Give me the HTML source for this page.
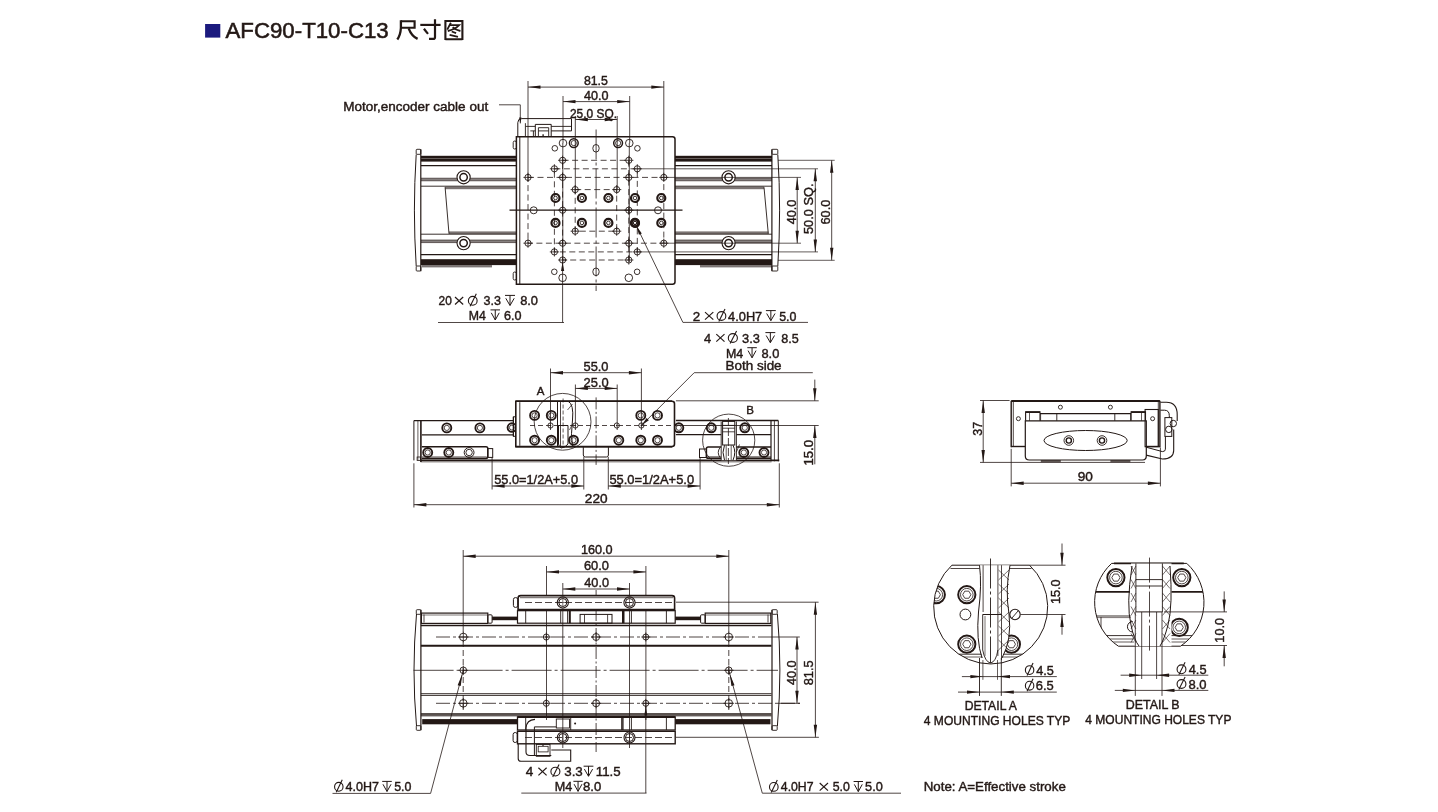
<!DOCTYPE html>
<html><head><meta charset="utf-8"><style>
html,body{margin:0;padding:0;background:#fff;width:1438px;height:812px;overflow:hidden}
svg{position:absolute;left:0;top:0;display:block;will-change:transform}
text{font-family:"Liberation Sans",sans-serif;stroke:#231815;stroke-width:0.42px}
.ttl{stroke-width:0.55px}
</style></head><body>
<svg width="1438" height="812" viewBox="0 0 1438 812">
<rect x="205.1" y="24" width="15.2" height="13.6" fill="#1b1a7e"/>
<text x="225.5" y="37.8" font-size="21.5" class="ttl" textLength="163.2" lengthAdjust="spacingAndGlyphs" fill="#231815">AFC90-T10-C13</text>
<path d="M400.9 21.2H414.6V27.7H400.9" fill="none" stroke="#231815" stroke-width="2.15" stroke-linecap="butt" stroke-linejoin="miter"/>
<path d="M400.9 20.3V28Q400.5 35 397.3 39.5" fill="none" stroke="#231815" stroke-width="2.3" stroke-linecap="butt" stroke-linejoin="miter"/>
<path d="M408.6 28.3Q411.5 36 417.6 38.9" fill="none" stroke="#231815" stroke-width="2.3" stroke-linecap="butt" stroke-linejoin="miter"/>
<path d="M420.3 24.9H440.6" fill="none" stroke="#231815" stroke-width="2.15" stroke-linecap="butt" stroke-linejoin="miter"/>
<path d="M435 19.2V37.2Q435 38.9 433.2 38.9H429" fill="none" stroke="#231815" stroke-width="2.2" stroke-linecap="butt" stroke-linejoin="miter"/>
<path d="M423.9 28.8L428 33.9" fill="none" stroke="#231815" stroke-width="2.2" stroke-linecap="butt" stroke-linejoin="miter"/>
<path d="M445.4 40.1V21H462.4V40.1M445.4 39.2H462.4" fill="none" stroke="#231815" stroke-width="2.1" stroke-linecap="butt" stroke-linejoin="miter"/>
<path d="M450.9 22.8L447.2 29.6" fill="none" stroke="#231815" stroke-width="1.8" stroke-linecap="butt" stroke-linejoin="miter"/>
<path d="M449.6 25.2H459.1Q455 29.5 447.8 31" fill="none" stroke="#231815" stroke-width="1.8" stroke-linecap="butt" stroke-linejoin="miter"/>
<path d="M452.6 27.2Q456 30 460.4 31" fill="none" stroke="#231815" stroke-width="1.8" stroke-linecap="butt" stroke-linejoin="miter"/>
<path d="M451.7 31.5L456.1 33.2" fill="none" stroke="#231815" stroke-width="1.8" stroke-linecap="butt" stroke-linejoin="miter"/>
<path d="M449.6 34.9L458 36.8" fill="none" stroke="#231815" stroke-width="1.8" stroke-linecap="butt" stroke-linejoin="miter"/>
<rect x="421" y="155.8" width="95" height="5.8" fill="#231815"/>
<rect x="421" y="158.2" width="95" height="0.6" fill="#fff" fill-opacity="0.5"/>
<line x1="421" y1="165.7" x2="516" y2="165.7" stroke="#231815" stroke-width="1.3"/>
<rect x="421" y="178.2" width="95" height="2.6" fill="#231815" fill-opacity="0.55"/>
<line x1="421" y1="178.2" x2="516" y2="178.2" stroke="#231815" stroke-width="0.6"/>
<line x1="421" y1="180.8" x2="516" y2="180.8" stroke="#231815" stroke-width="0.6"/>
<line x1="421" y1="186.2" x2="516" y2="186.2" stroke="#231815" stroke-width="0.9"/>
<rect x="445.1" y="186.6" width="70.9" height="2.6" fill="#231815" fill-opacity="0.6"/>
<rect x="449" y="231.4" width="67" height="2.6" fill="#231815" fill-opacity="0.6"/>
<line x1="421" y1="234.2" x2="516" y2="234.2" stroke="#231815" stroke-width="0.9"/>
<rect x="421" y="240" width="95" height="2.6" fill="#231815" fill-opacity="0.55"/>
<line x1="421" y1="240" x2="516" y2="240" stroke="#231815" stroke-width="0.6"/>
<line x1="421" y1="242.6" x2="516" y2="242.6" stroke="#231815" stroke-width="0.6"/>
<line x1="421" y1="254.7" x2="516" y2="254.7" stroke="#231815" stroke-width="1.3"/>
<rect x="421" y="259.2" width="95" height="5.9" fill="#231815"/>
<line x1="445.1" y1="187.2" x2="449" y2="233.8" stroke="#231815" stroke-width="0.9"/>
<rect x="422" y="265.1" width="70" height="2.3" fill="#231815" fill-opacity="0.6"/>
<path d="M416.2 154.5Q412.6 210 416.2 266" fill="none" stroke="#231815" stroke-width="1"/>
<path d="M420.8 149.3V271.3" fill="none" stroke="#231815" stroke-width="1.2"/>
<rect x="416.2" y="149.3" width="4.6" height="5" fill="none" stroke="#231815" stroke-width="0.9" rx="0.8"/>
<rect x="416.2" y="266" width="4.6" height="5" fill="none" stroke="#231815" stroke-width="0.9" rx="0.8"/>
<rect x="675" y="155.8" width="97" height="5.8" fill="#231815"/>
<rect x="675" y="158.2" width="97" height="0.6" fill="#fff" fill-opacity="0.5"/>
<line x1="675" y1="165.7" x2="772" y2="165.7" stroke="#231815" stroke-width="1.3"/>
<rect x="675" y="178.2" width="97" height="2.6" fill="#231815" fill-opacity="0.55"/>
<line x1="675" y1="178.2" x2="772" y2="178.2" stroke="#231815" stroke-width="0.6"/>
<line x1="675" y1="180.8" x2="772" y2="180.8" stroke="#231815" stroke-width="0.6"/>
<line x1="675" y1="186.2" x2="772" y2="186.2" stroke="#231815" stroke-width="0.9"/>
<rect x="675" y="186.6" width="89" height="2.6" fill="#231815" fill-opacity="0.6"/>
<rect x="675" y="231.4" width="93.3" height="2.6" fill="#231815" fill-opacity="0.6"/>
<line x1="675" y1="234.2" x2="772" y2="234.2" stroke="#231815" stroke-width="0.9"/>
<rect x="675" y="240" width="97" height="2.6" fill="#231815" fill-opacity="0.55"/>
<line x1="675" y1="240" x2="772" y2="240" stroke="#231815" stroke-width="0.6"/>
<line x1="675" y1="242.6" x2="772" y2="242.6" stroke="#231815" stroke-width="0.6"/>
<line x1="675" y1="254.7" x2="772" y2="254.7" stroke="#231815" stroke-width="1.3"/>
<rect x="675" y="259.2" width="97" height="5.9" fill="#231815"/>
<line x1="764" y1="187.2" x2="768.3" y2="233.8" stroke="#231815" stroke-width="0.9"/>
<rect x="700" y="265.1" width="72" height="2.3" fill="#231815" fill-opacity="0.6"/>
<path d="M777.8 154.5Q781.4 210 777.8 266" fill="none" stroke="#231815" stroke-width="1"/>
<path d="M771.9 149.3V271.3" fill="none" stroke="#231815" stroke-width="1.2"/>
<rect x="771.9" y="149.3" width="5.9" height="5" fill="none" stroke="#231815" stroke-width="0.9" rx="0.8"/>
<rect x="771.9" y="266" width="5.9" height="5" fill="none" stroke="#231815" stroke-width="0.9" rx="0.8"/>
<circle cx="463.6" cy="177.3" r="6.6" fill="#fff"/>
<circle cx="463.6" cy="177.3" r="6.6" fill="none" stroke="#231815" stroke-width="1.1"/>
<circle cx="463.6" cy="177.3" r="3.7" fill="none" stroke="#231815" stroke-width="1.5"/>
<circle cx="463.6" cy="243.1" r="6.6" fill="#fff"/>
<circle cx="463.6" cy="243.1" r="6.6" fill="none" stroke="#231815" stroke-width="1.1"/>
<circle cx="463.6" cy="243.1" r="3.7" fill="none" stroke="#231815" stroke-width="1.5"/>
<circle cx="728.6" cy="177.3" r="6.6" fill="#fff"/>
<circle cx="728.6" cy="177.3" r="6.6" fill="none" stroke="#231815" stroke-width="1.1"/>
<circle cx="728.6" cy="177.3" r="3.7" fill="none" stroke="#231815" stroke-width="1.5"/>
<circle cx="728.6" cy="243.1" r="6.6" fill="#fff"/>
<circle cx="728.6" cy="243.1" r="6.6" fill="none" stroke="#231815" stroke-width="1.1"/>
<circle cx="728.6" cy="243.1" r="3.7" fill="none" stroke="#231815" stroke-width="1.5"/>
<path d="M516.4 136.7H672.5Q675 136.7 675 139.2V281.8Q675 284.3 672.5 284.3H516.4Z" fill="#fff"/>
<path d="M516.4 136.7H672.5Q675 136.7 675 139.2V281.8Q675 284.3 672.5 284.3H516.4Z" fill="none" stroke="#231815" stroke-width="1.5"/>
<line x1="519.8" y1="137" x2="519.8" y2="284" stroke="#231815" stroke-width="1"/>
<rect x="513.2" y="141" width="3.2" height="8" fill="none" stroke="#231815" stroke-width="0.9" rx="1.5"/>
<rect x="513.2" y="272" width="3.2" height="8" fill="none" stroke="#231815" stroke-width="0.9" rx="1.5"/>
<path d="M517.8 136V122.6Q517.8 118.6 521.8 118.6H571.5V130.9H551.2" fill="none" stroke="#231815" stroke-width="1"/>
<line x1="525.6" y1="126.4" x2="535.3" y2="126.4" stroke="#231815" stroke-width="0.9"/>
<line x1="551.2" y1="126.4" x2="571.5" y2="126.4" stroke="#231815" stroke-width="0.9"/>
<line x1="525.4" y1="123.2" x2="525.4" y2="136" stroke="#231815" stroke-width="0.9"/>
<path d="M535.3 136.4V124.4H551.2V136.4" fill="none" stroke="#231815" stroke-width="1"/>
<path d="M538.4 136.4V127.7H548.7V136.4M538.4 130.9H548.7" fill="none" stroke="#231815" stroke-width="0.9"/>
<path d="M530.3 130.9H535.3M533.4 130.9V136.4" fill="none" stroke="#231815" stroke-width="0.9"/>
<circle cx="543.1" cy="135.1" r="0.9" fill="#231815"/>
<line x1="509.5" y1="210.2" x2="682.5" y2="210.2" stroke="#231815" stroke-width="1.25"/>
<line x1="596.1" y1="129.5" x2="596.1" y2="291" stroke="#231815" stroke-width="0.8" stroke-dasharray="30 3 3 3"/>
<path d="M575.2 189.6H616.7V231.2H575.2Z" fill="none" stroke="#231815" stroke-width="0.8" stroke-dasharray="6 3.5"/>
<path d="M554.4 168.8H637.3V251.9H554.4Z" fill="none" stroke="#231815" stroke-width="0.8" stroke-dasharray="6 3.5"/>
<path d="M562.6 160.3H628.8V260H562.6Z" fill="none" stroke="#231815" stroke-width="0.8" stroke-dasharray="6 3.5"/>
<line x1="562.8" y1="143" x2="562.8" y2="262" stroke="#231815" stroke-width="0.8"/>
<line x1="629.3" y1="143" x2="629.3" y2="262" stroke="#231815" stroke-width="0.8"/>
<path d="M528 177.4H663.8V243.2H528Z" fill="none" stroke="#231815" stroke-width="0.8" stroke-dasharray="6 3.5"/>
<circle cx="528" cy="177.4" r="3.1" fill="none" stroke="#231815" stroke-width="0.9"/>
<line x1="523.4" y1="177.4" x2="532.6" y2="177.4" stroke="#231815" stroke-width="0.8"/>
<line x1="528" y1="172.8" x2="528" y2="182" stroke="#231815" stroke-width="0.8"/>
<circle cx="663.8" cy="177.4" r="3.1" fill="none" stroke="#231815" stroke-width="0.9"/>
<line x1="659.2" y1="177.4" x2="668.4" y2="177.4" stroke="#231815" stroke-width="0.8"/>
<line x1="663.8" y1="172.8" x2="663.8" y2="182" stroke="#231815" stroke-width="0.8"/>
<circle cx="528" cy="243.2" r="3.1" fill="none" stroke="#231815" stroke-width="0.9"/>
<line x1="523.4" y1="243.2" x2="532.6" y2="243.2" stroke="#231815" stroke-width="0.8"/>
<line x1="528" y1="238.6" x2="528" y2="247.8" stroke="#231815" stroke-width="0.8"/>
<circle cx="663.8" cy="243.2" r="3.1" fill="none" stroke="#231815" stroke-width="0.9"/>
<line x1="659.2" y1="243.2" x2="668.4" y2="243.2" stroke="#231815" stroke-width="0.8"/>
<line x1="663.8" y1="238.6" x2="663.8" y2="247.8" stroke="#231815" stroke-width="0.8"/>
<circle cx="562.6" cy="160.3" r="3.1" fill="none" stroke="#231815" stroke-width="0.9"/>
<line x1="558" y1="160.3" x2="567.2" y2="160.3" stroke="#231815" stroke-width="0.8"/>
<line x1="562.6" y1="155.7" x2="562.6" y2="164.9" stroke="#231815" stroke-width="0.8"/>
<circle cx="628.8" cy="160.3" r="3.1" fill="none" stroke="#231815" stroke-width="0.9"/>
<line x1="624.2" y1="160.3" x2="633.4" y2="160.3" stroke="#231815" stroke-width="0.8"/>
<line x1="628.8" y1="155.7" x2="628.8" y2="164.9" stroke="#231815" stroke-width="0.8"/>
<circle cx="562.6" cy="177.4" r="3.1" fill="none" stroke="#231815" stroke-width="0.9"/>
<line x1="558" y1="177.4" x2="567.2" y2="177.4" stroke="#231815" stroke-width="0.8"/>
<line x1="562.6" y1="172.8" x2="562.6" y2="182" stroke="#231815" stroke-width="0.8"/>
<circle cx="628.8" cy="177.4" r="3.1" fill="none" stroke="#231815" stroke-width="0.9"/>
<line x1="624.2" y1="177.4" x2="633.4" y2="177.4" stroke="#231815" stroke-width="0.8"/>
<line x1="628.8" y1="172.8" x2="628.8" y2="182" stroke="#231815" stroke-width="0.8"/>
<circle cx="562.6" cy="243.2" r="3.1" fill="none" stroke="#231815" stroke-width="0.9"/>
<line x1="558" y1="243.2" x2="567.2" y2="243.2" stroke="#231815" stroke-width="0.8"/>
<line x1="562.6" y1="238.6" x2="562.6" y2="247.8" stroke="#231815" stroke-width="0.8"/>
<circle cx="628.8" cy="243.2" r="3.1" fill="none" stroke="#231815" stroke-width="0.9"/>
<line x1="624.2" y1="243.2" x2="633.4" y2="243.2" stroke="#231815" stroke-width="0.8"/>
<line x1="628.8" y1="238.6" x2="628.8" y2="247.8" stroke="#231815" stroke-width="0.8"/>
<circle cx="562.6" cy="260" r="3.1" fill="none" stroke="#231815" stroke-width="0.9"/>
<line x1="558" y1="260" x2="567.2" y2="260" stroke="#231815" stroke-width="0.8"/>
<line x1="562.6" y1="255.4" x2="562.6" y2="264.6" stroke="#231815" stroke-width="0.8"/>
<circle cx="628.8" cy="260" r="3.1" fill="none" stroke="#231815" stroke-width="0.9"/>
<line x1="624.2" y1="260" x2="633.4" y2="260" stroke="#231815" stroke-width="0.8"/>
<line x1="628.8" y1="255.4" x2="628.8" y2="264.6" stroke="#231815" stroke-width="0.8"/>
<circle cx="554.4" cy="168.8" r="3.1" fill="none" stroke="#231815" stroke-width="0.9"/>
<line x1="549.8" y1="168.8" x2="559" y2="168.8" stroke="#231815" stroke-width="0.8"/>
<line x1="554.4" y1="164.2" x2="554.4" y2="173.4" stroke="#231815" stroke-width="0.8"/>
<circle cx="637.3" cy="168.8" r="3.1" fill="none" stroke="#231815" stroke-width="0.9"/>
<line x1="632.7" y1="168.8" x2="641.9" y2="168.8" stroke="#231815" stroke-width="0.8"/>
<line x1="637.3" y1="164.2" x2="637.3" y2="173.4" stroke="#231815" stroke-width="0.8"/>
<circle cx="554.4" cy="251.9" r="3.1" fill="none" stroke="#231815" stroke-width="0.9"/>
<line x1="549.8" y1="251.9" x2="559" y2="251.9" stroke="#231815" stroke-width="0.8"/>
<line x1="554.4" y1="247.3" x2="554.4" y2="256.5" stroke="#231815" stroke-width="0.8"/>
<circle cx="637.3" cy="251.9" r="3.1" fill="none" stroke="#231815" stroke-width="0.9"/>
<line x1="632.7" y1="251.9" x2="641.9" y2="251.9" stroke="#231815" stroke-width="0.8"/>
<line x1="637.3" y1="247.3" x2="637.3" y2="256.5" stroke="#231815" stroke-width="0.8"/>
<circle cx="575.2" cy="189.6" r="3.1" fill="none" stroke="#231815" stroke-width="0.9"/>
<line x1="570.6" y1="189.6" x2="579.8" y2="189.6" stroke="#231815" stroke-width="0.8"/>
<line x1="575.2" y1="185" x2="575.2" y2="194.2" stroke="#231815" stroke-width="0.8"/>
<circle cx="616.7" cy="189.6" r="3.1" fill="none" stroke="#231815" stroke-width="0.9"/>
<line x1="612.1" y1="189.6" x2="621.3" y2="189.6" stroke="#231815" stroke-width="0.8"/>
<line x1="616.7" y1="185" x2="616.7" y2="194.2" stroke="#231815" stroke-width="0.8"/>
<circle cx="575.2" cy="231.2" r="3.1" fill="none" stroke="#231815" stroke-width="0.9"/>
<line x1="570.6" y1="231.2" x2="579.8" y2="231.2" stroke="#231815" stroke-width="0.8"/>
<line x1="575.2" y1="226.6" x2="575.2" y2="235.8" stroke="#231815" stroke-width="0.8"/>
<circle cx="616.7" cy="231.2" r="3.1" fill="none" stroke="#231815" stroke-width="0.9"/>
<line x1="612.1" y1="231.2" x2="621.3" y2="231.2" stroke="#231815" stroke-width="0.8"/>
<line x1="616.7" y1="226.6" x2="616.7" y2="235.8" stroke="#231815" stroke-width="0.8"/>
<circle cx="562.6" cy="210.2" r="3.1" fill="none" stroke="#231815" stroke-width="0.9"/>
<line x1="558" y1="210.2" x2="567.2" y2="210.2" stroke="#231815" stroke-width="0.8"/>
<line x1="562.6" y1="205.6" x2="562.6" y2="214.8" stroke="#231815" stroke-width="0.8"/>
<circle cx="628.8" cy="210.2" r="3.1" fill="none" stroke="#231815" stroke-width="0.9"/>
<line x1="624.2" y1="210.2" x2="633.4" y2="210.2" stroke="#231815" stroke-width="0.8"/>
<line x1="628.8" y1="205.6" x2="628.8" y2="214.8" stroke="#231815" stroke-width="0.8"/>
<circle cx="563" cy="143.1" r="3.8" fill="none" stroke="#231815" stroke-width="0.9"/>
<circle cx="629.3" cy="143.1" r="3.8" fill="none" stroke="#231815" stroke-width="0.9"/>
<circle cx="533.7" cy="210.3" r="3.5" fill="none" stroke="#231815" stroke-width="0.9"/>
<circle cx="658" cy="210.3" r="3.5" fill="none" stroke="#231815" stroke-width="0.9"/>
<circle cx="562.6" cy="277.8" r="3.8" fill="none" stroke="#231815" stroke-width="0.9"/>
<circle cx="628.8" cy="277.8" r="3.8" fill="none" stroke="#231815" stroke-width="0.9"/>
<circle cx="554.8" cy="148.3" r="2.8" fill="none" stroke="#231815" stroke-width="0.9"/>
<circle cx="637.4" cy="148.3" r="2.8" fill="none" stroke="#231815" stroke-width="0.9"/>
<circle cx="554.3" cy="271.8" r="2.8" fill="none" stroke="#231815" stroke-width="0.9"/>
<circle cx="637.1" cy="271.8" r="2.8" fill="none" stroke="#231815" stroke-width="0.9"/>
<ellipse cx="596" cy="148.3" rx="3.2" ry="3.8" fill="none" stroke="#231815" stroke-width="0.9"/>
<ellipse cx="596" cy="271.8" rx="3.2" ry="3.8" fill="none" stroke="#231815" stroke-width="0.9"/>
<circle cx="573.8" cy="143.1" r="4.4" fill="none" stroke="#231815" stroke-width="1.5"/>
<circle cx="573.8" cy="143.1" r="2.6" fill="none" stroke="#231815" stroke-width="0.8"/>
<circle cx="618.1" cy="143.1" r="4.4" fill="none" stroke="#231815" stroke-width="1.5"/>
<circle cx="618.1" cy="143.1" r="2.6" fill="none" stroke="#231815" stroke-width="0.8"/>
<circle cx="555.5" cy="198" r="4" fill="none" stroke="#231815" stroke-width="2.2"/>
<circle cx="555.5" cy="198" r="1.8" fill="none" stroke="#231815" stroke-width="0.9"/>
<circle cx="555.5" cy="222.9" r="4" fill="none" stroke="#231815" stroke-width="2.2"/>
<circle cx="555.5" cy="222.9" r="1.8" fill="none" stroke="#231815" stroke-width="0.9"/>
<circle cx="581.9" cy="198" r="4" fill="none" stroke="#231815" stroke-width="2.2"/>
<circle cx="581.9" cy="198" r="1.8" fill="none" stroke="#231815" stroke-width="0.9"/>
<circle cx="581.9" cy="222.9" r="4" fill="none" stroke="#231815" stroke-width="2.2"/>
<circle cx="581.9" cy="222.9" r="1.8" fill="none" stroke="#231815" stroke-width="0.9"/>
<circle cx="608.4" cy="198" r="4" fill="none" stroke="#231815" stroke-width="2.2"/>
<circle cx="608.4" cy="198" r="1.8" fill="none" stroke="#231815" stroke-width="0.9"/>
<circle cx="608.4" cy="222.9" r="4" fill="none" stroke="#231815" stroke-width="2.2"/>
<circle cx="608.4" cy="222.9" r="1.8" fill="none" stroke="#231815" stroke-width="0.9"/>
<circle cx="635" cy="198" r="4" fill="none" stroke="#231815" stroke-width="2.2"/>
<circle cx="635" cy="198" r="1.8" fill="none" stroke="#231815" stroke-width="0.9"/>
<circle cx="635" cy="222.9" r="4" fill="none" stroke="#231815" stroke-width="2.2"/>
<circle cx="635" cy="222.9" r="1.8" fill="none" stroke="#231815" stroke-width="0.9"/>
<circle cx="661.3" cy="198" r="4" fill="none" stroke="#231815" stroke-width="2.2"/>
<circle cx="661.3" cy="198" r="1.8" fill="none" stroke="#231815" stroke-width="0.9"/>
<circle cx="661.3" cy="222.9" r="4" fill="none" stroke="#231815" stroke-width="2.2"/>
<circle cx="661.3" cy="222.9" r="1.8" fill="none" stroke="#231815" stroke-width="0.9"/>
<circle cx="635" cy="222.9" r="3.6" fill="none" stroke="#231815" stroke-width="2.6"/>
<circle cx="635" cy="222.9" r="1.6" fill="none" stroke="#231815" stroke-width="0.8"/>
<line x1="528" y1="81" x2="528" y2="177.4" stroke="#231815" stroke-width="0.8"/>
<line x1="663.8" y1="81" x2="663.8" y2="177.4" stroke="#231815" stroke-width="0.8"/>
<line x1="528" y1="87.1" x2="663.8" y2="87.1" stroke="#231815" stroke-width="0.8"/>
<path d="M528 87.1L540.5 85.4L540.5 88.8Z" fill="#231815"/>
<path d="M663.8 87.1L651.3 88.8L651.3 85.4Z" fill="#231815"/>
<text x="595.9" y="85" font-size="12.5" text-anchor="middle" textLength="24" lengthAdjust="spacingAndGlyphs" fill="#231815">81.5</text>
<line x1="563" y1="96" x2="563" y2="143.1" stroke="#231815" stroke-width="0.8"/>
<line x1="629.7" y1="96" x2="629.7" y2="143.1" stroke="#231815" stroke-width="0.8"/>
<line x1="563" y1="101.6" x2="629.7" y2="101.6" stroke="#231815" stroke-width="0.8"/>
<path d="M563 101.6L575.5 99.9L575.5 103.3Z" fill="#231815"/>
<path d="M629.7 101.6L617.2 103.3L617.2 99.9Z" fill="#231815"/>
<text x="596.3" y="99.6" font-size="12.5" text-anchor="middle" textLength="24.5" lengthAdjust="spacingAndGlyphs" fill="#231815">40.0</text>
<line x1="575.3" y1="116" x2="575.3" y2="189.6" stroke="#231815" stroke-width="0.8"/>
<line x1="617.2" y1="116" x2="617.2" y2="189.6" stroke="#231815" stroke-width="0.8"/>
<line x1="575.3" y1="119.5" x2="617.2" y2="119.5" stroke="#231815" stroke-width="0.8"/>
<path d="M575.3 119.5L587.8 117.8L587.8 121.2Z" fill="#231815"/>
<path d="M617.2 119.5L604.7 121.2L604.7 117.8Z" fill="#231815"/>
<text x="570" y="117.6" font-size="12.5" textLength="47" lengthAdjust="spacingAndGlyphs" fill="#231815">25.0 SQ.</text>
<text x="343.2" y="111.4" font-size="12.6" textLength="145" lengthAdjust="spacingAndGlyphs" fill="#231815">Motor,encoder cable out</text>
<path d="M499 104.8H520.3V123.4" fill="none" stroke="#231815" stroke-width="0.8"/>
<path d="M520.3 123.6L519.1 117.6L521.5 117.6Z" fill="#231815"/>
<line x1="664" y1="177.4" x2="801" y2="177.4" stroke="#231815" stroke-width="0.7"/>
<line x1="664" y1="243.2" x2="801" y2="243.2" stroke="#231815" stroke-width="0.7"/>
<line x1="637.3" y1="168.8" x2="818" y2="168.8" stroke="#231815" stroke-width="0.7"/>
<line x1="637.3" y1="251.9" x2="818" y2="251.9" stroke="#231815" stroke-width="0.7"/>
<line x1="778" y1="160.3" x2="834.7" y2="160.3" stroke="#231815" stroke-width="0.7"/>
<line x1="778" y1="260.3" x2="834.7" y2="260.3" stroke="#231815" stroke-width="0.7"/>
<line x1="797.2" y1="177.4" x2="797.2" y2="243.2" stroke="#231815" stroke-width="0.8"/>
<path d="M797.2 177.4L798.9 189.9L795.5 189.9Z" fill="#231815"/>
<path d="M797.2 243.2L795.5 230.7L798.9 230.7Z" fill="#231815"/>
<line x1="815.3" y1="168.8" x2="815.3" y2="251.9" stroke="#231815" stroke-width="0.8"/>
<path d="M815.3 168.8L817 181.3L813.6 181.3Z" fill="#231815"/>
<path d="M815.3 251.9L813.6 239.4L817 239.4Z" fill="#231815"/>
<line x1="831.7" y1="160.3" x2="831.7" y2="260.3" stroke="#231815" stroke-width="0.8"/>
<path d="M831.7 160.3L833.4 172.8L830 172.8Z" fill="#231815"/>
<path d="M831.7 260.3L830 247.8L833.4 247.8Z" fill="#231815"/>
<text x="-0.29" y="0" font-size="13" textLength="24.48" lengthAdjust="spacingAndGlyphs" transform="translate(795.5 223.9) rotate(-90)" fill="#231815">40.0</text>
<text x="-0.51" y="0" font-size="13" textLength="50.48" lengthAdjust="spacingAndGlyphs" transform="translate(813 233.5) rotate(-90)" fill="#231815">50.0 SQ.</text>
<text x="-0.65" y="0" font-size="13" textLength="24.85" lengthAdjust="spacingAndGlyphs" transform="translate(829.5 223.9) rotate(-90)" fill="#231815">60.0</text>
<line x1="562.6" y1="262" x2="562.6" y2="322.5" stroke="#231815" stroke-width="0.8"/>
<path d="M562.6 262L564.2 271L561 271Z" fill="#231815"/>
<line x1="438" y1="322.5" x2="564" y2="322.5" stroke="#231815" stroke-width="0.8"/>
<text x="438.6" y="305.3" font-size="13" textLength="13.27" lengthAdjust="spacingAndGlyphs" fill="#231815">20</text>
<line x1="455" y1="296.96" x2="463.2" y2="304.5" stroke="#231815" stroke-width="1.15"/>
<line x1="455" y1="304.5" x2="463.2" y2="296.96" stroke="#231815" stroke-width="1.15"/>
<ellipse cx="472.75" cy="300.8" rx="4.37" ry="4.4" fill="none" stroke="#231815" stroke-width="1.1"/>
<line x1="470.14" y1="306.3" x2="476.31" y2="293.8" stroke="#231815" stroke-width="1.1"/>
<text x="483.52" y="305.3" font-size="13" textLength="17.43" lengthAdjust="spacingAndGlyphs" fill="#231815">3.3</text>
<line x1="505" y1="295.4" x2="515" y2="295.4" stroke="#231815" stroke-width="1"/>
<line x1="510" y1="295.4" x2="510" y2="305.3" stroke="#231815" stroke-width="1"/>
<path d="M505.8 298.3L510 305.5L514.2 298.3" fill="none" stroke="#231815" stroke-width="1"/>
<text x="520.14" y="305.3" font-size="13" textLength="17.86" lengthAdjust="spacingAndGlyphs" fill="#231815">8.0</text>
<text x="468.79" y="319.8" font-size="13" textLength="17.07" lengthAdjust="spacingAndGlyphs" fill="#231815">M4</text>
<line x1="490.5" y1="309.9" x2="500" y2="309.9" stroke="#231815" stroke-width="1"/>
<line x1="495.25" y1="309.9" x2="495.25" y2="319.8" stroke="#231815" stroke-width="1"/>
<path d="M491.26 312.8L495.25 320L499.24 312.8" fill="none" stroke="#231815" stroke-width="1"/>
<text x="503.96" y="319.8" font-size="13" textLength="17.53" lengthAdjust="spacingAndGlyphs" fill="#231815">6.0</text>
<line x1="636.5" y1="226" x2="682.9" y2="322.4" stroke="#231815" stroke-width="0.8"/>
<path d="M636.5 226L641.82 233.43L638.94 234.81Z" fill="#231815"/>
<line x1="682.9" y1="322.4" x2="808" y2="322.4" stroke="#231815" stroke-width="0.8"/>
<text x="692.73" y="320.5" font-size="13" textLength="7.45" lengthAdjust="spacingAndGlyphs" fill="#231815">2</text>
<line x1="705" y1="312.06" x2="713.3" y2="319.7" stroke="#231815" stroke-width="1.15"/>
<line x1="705" y1="319.7" x2="713.3" y2="312.06" stroke="#231815" stroke-width="1.15"/>
<ellipse cx="721.45" cy="316" rx="4.37" ry="4.4" fill="none" stroke="#231815" stroke-width="1.1"/>
<line x1="718.84" y1="321.5" x2="725.01" y2="309" stroke="#231815" stroke-width="1.1"/>
<text x="728.11" y="320.5" font-size="13" textLength="34.14" lengthAdjust="spacingAndGlyphs" fill="#231815">4.0H7</text>
<line x1="765.9" y1="310.6" x2="775.8" y2="310.6" stroke="#231815" stroke-width="1"/>
<line x1="770.85" y1="310.6" x2="770.85" y2="320.5" stroke="#231815" stroke-width="1"/>
<path d="M766.69 313.5L770.85 320.7L775.01 313.5" fill="none" stroke="#231815" stroke-width="1"/>
<text x="779.2" y="320.5" font-size="13" textLength="17.28" lengthAdjust="spacingAndGlyphs" fill="#231815">5.0</text>
<text x="703.9" y="342.5" font-size="13" textLength="7.17" lengthAdjust="spacingAndGlyphs" fill="#231815">4</text>
<line x1="716.3" y1="334.16" x2="724.5" y2="341.7" stroke="#231815" stroke-width="1.15"/>
<line x1="716.3" y1="341.7" x2="724.5" y2="334.16" stroke="#231815" stroke-width="1.15"/>
<ellipse cx="732.85" cy="338" rx="4.55" ry="4.4" fill="none" stroke="#231815" stroke-width="1.1"/>
<line x1="730.13" y1="343.5" x2="736.56" y2="331" stroke="#231815" stroke-width="1.1"/>
<text x="742.11" y="342.5" font-size="13" textLength="17.85" lengthAdjust="spacingAndGlyphs" fill="#231815">3.3</text>
<line x1="765.4" y1="332.6" x2="775.3" y2="332.6" stroke="#231815" stroke-width="1"/>
<line x1="770.35" y1="332.6" x2="770.35" y2="342.5" stroke="#231815" stroke-width="1"/>
<path d="M766.19 335.5L770.35 342.7L774.51 335.5" fill="none" stroke="#231815" stroke-width="1"/>
<text x="781.25" y="342.5" font-size="13" textLength="17.47" lengthAdjust="spacingAndGlyphs" fill="#231815">8.5</text>
<text x="725.88" y="357.6" font-size="13" textLength="17.29" lengthAdjust="spacingAndGlyphs" fill="#231815">M4</text>
<line x1="747.3" y1="347.7" x2="756.8" y2="347.7" stroke="#231815" stroke-width="1"/>
<line x1="752.05" y1="347.7" x2="752.05" y2="357.6" stroke="#231815" stroke-width="1"/>
<path d="M748.06 350.6L752.05 357.8L756.04 350.6" fill="none" stroke="#231815" stroke-width="1"/>
<text x="761.44" y="357.6" font-size="13" textLength="17.86" lengthAdjust="spacingAndGlyphs" fill="#231815">8.0</text>
<text x="725.5" y="370.1" font-size="13" textLength="56.1" lengthAdjust="spacingAndGlyphs" fill="#231815">Both side</text>
<line x1="550.5" y1="372.7" x2="641.4" y2="372.7" stroke="#231815" stroke-width="0.8"/>
<path d="M550.5 372.7L563 371L563 374.4Z" fill="#231815"/>
<path d="M641.4 372.7L628.9 374.4L628.9 371Z" fill="#231815"/>
<text x="583.49" y="370.7" font-size="13" textLength="25.02" lengthAdjust="spacingAndGlyphs" fill="#231815">55.0</text>
<line x1="575.4" y1="388.4" x2="617.2" y2="388.4" stroke="#231815" stroke-width="0.8"/>
<path d="M575.4 388.4L587.9 386.7L587.9 390.1Z" fill="#231815"/>
<path d="M617.2 388.4L604.7 390.1L604.7 386.7Z" fill="#231815"/>
<text x="583.55" y="386.5" font-size="13" textLength="25.15" lengthAdjust="spacingAndGlyphs" fill="#231815">25.0</text>
<text x="540.6" y="395.4" font-size="11.5" text-anchor="middle" fill="#231815">A</text>
<line x1="413.9" y1="420.6" x2="513.4" y2="420.6" stroke="#231815" stroke-width="1.4"/>
<line x1="421.8" y1="434.8" x2="513.4" y2="434.8" stroke="#231815" stroke-width="1.3"/>
<line x1="413.9" y1="420.6" x2="413.9" y2="460.4" stroke="#231815" stroke-width="1"/>
<line x1="417.9" y1="420.6" x2="417.9" y2="460.4" stroke="#231815" stroke-width="0.7"/>
<line x1="420.9" y1="420.6" x2="420.9" y2="462" stroke="#231815" stroke-width="1.6"/>
<rect x="417.1" y="457" width="3.2" height="3.4" fill="none" stroke="#231815" stroke-width="0.8"/>
<path d="M421.8 446.8H486Q487.8 446.8 487.8 448.6V456.6Q487.8 458.4 486 458.4H421.8" fill="none" stroke="#231815" stroke-width="1.5"/>
<rect x="421.8" y="456.2" width="65" height="1.6" fill="#231815" fill-opacity="0.5"/>
<rect x="487.8" y="448.6" width="4.9" height="8.8" fill="none" stroke="#231815" stroke-width="1"/>
<circle cx="446.8" cy="427.9" r="4.5" fill="none" stroke="#231815" stroke-width="1.9"/>
<circle cx="446.8" cy="427.9" r="2.6" fill="none" stroke="#231815" stroke-width="0.8"/>
<circle cx="479.9" cy="427.9" r="4.5" fill="none" stroke="#231815" stroke-width="1.9"/>
<circle cx="479.9" cy="427.9" r="2.6" fill="none" stroke="#231815" stroke-width="0.8"/>
<circle cx="427.7" cy="452.5" r="4.5" fill="none" stroke="#231815" stroke-width="1.9"/>
<circle cx="427.7" cy="452.5" r="2.6" fill="none" stroke="#231815" stroke-width="0.8"/>
<circle cx="448.8" cy="452.5" r="4.5" fill="none" stroke="#231815" stroke-width="1.9"/>
<circle cx="448.8" cy="452.5" r="2.6" fill="none" stroke="#231815" stroke-width="0.8"/>
<circle cx="469.1" cy="452.5" r="4.9" fill="none" stroke="#231815" stroke-width="1"/>
<circle cx="469.1" cy="452.5" r="3.2" fill="none" stroke="#231815" stroke-width="0.9"/>
<path d="M513.4 417V436.3" fill="none" stroke="#231815" stroke-width="1.2"/>
<circle cx="511.9" cy="427.6" r="4.3" fill="none" stroke="#231815" stroke-width="1.9"/>
<circle cx="511.9" cy="427.6" r="2.5" fill="none" stroke="#231815" stroke-width="0.8"/>
<rect x="513.4" y="416.8" width="2.2" height="19.5" fill="none" stroke="#231815" stroke-width="1"/>
<line x1="420.5" y1="460.4" x2="779.3" y2="460.4" stroke="#231815" stroke-width="1.9"/>
<rect x="420.5" y="461.3" width="351" height="1.2" fill="#231815" fill-opacity="0.45"/>
<line x1="675.9" y1="420.5" x2="778.3" y2="420.5" stroke="#231815" stroke-width="1.4"/>
<line x1="675.9" y1="434.7" x2="771" y2="434.7" stroke="#231815" stroke-width="1.3"/>
<line x1="771" y1="420.5" x2="771" y2="461.3" stroke="#231815" stroke-width="1.2"/>
<line x1="774.4" y1="420.5" x2="774.4" y2="461.3" stroke="#231815" stroke-width="0.8"/>
<line x1="778.3" y1="420.5" x2="778.3" y2="461.3" stroke="#231815" stroke-width="1"/>
<path d="M771 447H708.2Q706.4 447 706.4 448.8V456.4Q706.4 458.2 708.2 458.2H771" fill="none" stroke="#231815" stroke-width="1.5"/>
<rect x="707" y="456" width="64" height="1.6" fill="#231815" fill-opacity="0.5"/>
<rect x="699.5" y="449" width="6.9" height="8.5" fill="none" stroke="#231815" stroke-width="1"/>
<circle cx="678.8" cy="427.8" r="4.5" fill="none" stroke="#231815" stroke-width="1.9"/>
<circle cx="678.8" cy="427.8" r="2.6" fill="none" stroke="#231815" stroke-width="0.8"/>
<circle cx="711.3" cy="427.8" r="4.5" fill="none" stroke="#231815" stroke-width="1.9"/>
<circle cx="711.3" cy="427.8" r="2.6" fill="none" stroke="#231815" stroke-width="0.8"/>
<circle cx="744.8" cy="427.8" r="4.5" fill="none" stroke="#231815" stroke-width="1.9"/>
<circle cx="744.8" cy="427.8" r="2.6" fill="none" stroke="#231815" stroke-width="0.8"/>
<circle cx="743.8" cy="452.5" r="4.5" fill="none" stroke="#231815" stroke-width="1.9"/>
<circle cx="743.8" cy="452.5" r="2.6" fill="none" stroke="#231815" stroke-width="0.8"/>
<circle cx="764" cy="452.5" r="4.5" fill="none" stroke="#231815" stroke-width="1.9"/>
<circle cx="764" cy="452.5" r="2.6" fill="none" stroke="#231815" stroke-width="0.8"/>
<path d="M721.2 421.4H736.4V460.2H721.2Z" fill="#fff"/>
<line x1="721.2" y1="421.4" x2="721.2" y2="460.2" stroke="#231815" stroke-width="0.9"/>
<line x1="736.4" y1="421.4" x2="736.4" y2="460.2" stroke="#231815" stroke-width="0.9"/>
<rect x="722.6" y="421.4" width="12.2" height="23.6" fill="none" stroke="#231815" stroke-width="1"/>
<line x1="722.6" y1="425.4" x2="734.8" y2="425.4" stroke="#231815" stroke-width="0.8"/>
<line x1="722.6" y1="428.2" x2="734.8" y2="428.2" stroke="#231815" stroke-width="0.8"/>
<line x1="722.6" y1="431.8" x2="734.8" y2="431.8" stroke="#231815" stroke-width="0.8"/>
<path d="M724.5 445.2Q721.5 452 724.5 460.2M733 445.2Q736.5 452 733 460.2" fill="none" stroke="#231815" stroke-width="1"/>
<line x1="726.2" y1="445.2" x2="726.2" y2="460" stroke="#231815" stroke-width="0.7"/>
<line x1="731.2" y1="445.2" x2="731.2" y2="460" stroke="#231815" stroke-width="0.7"/>
<line x1="728.4" y1="418" x2="728.4" y2="464" stroke="#231815" stroke-width="0.8" stroke-dasharray="8 2"/>
<path d="M736.4 452L739.5 444.5" fill="none" stroke="#231815" stroke-width="0.8"/>
<path d="M720 447.5Q716.5 452.5 720 457.5" fill="none" stroke="#231815" stroke-width="0.9"/>
<path d="M515.8 401.3H672Q674.5 401.3 674.5 403.8V444.1Q674.5 446.6 672 446.6H515.8Z" fill="#fff"/>
<path d="M515.8 401.3H672Q674.5 401.3 674.5 403.8V444.1Q674.5 446.6 672 446.6H515.8Z" fill="none" stroke="#231815" stroke-width="1.6"/>
<line x1="519.8" y1="402.2" x2="519.8" y2="445.8" stroke="#231815" stroke-width="0.9"/>
<line x1="515.8" y1="400.6" x2="672" y2="400.6" stroke="#231815" stroke-width="0.7"/>
<line x1="515.8" y1="447.1" x2="672" y2="447.1" stroke="#231815" stroke-width="0.7"/>
<circle cx="534.6" cy="415.4" r="4.5" fill="none" stroke="#231815" stroke-width="1.9"/>
<circle cx="534.6" cy="415.4" r="2.6" fill="none" stroke="#231815" stroke-width="0.8"/>
<circle cx="551.3" cy="415.4" r="4.5" fill="none" stroke="#231815" stroke-width="1.9"/>
<circle cx="551.3" cy="415.4" r="2.6" fill="none" stroke="#231815" stroke-width="0.8"/>
<circle cx="640.8" cy="415.4" r="4.5" fill="none" stroke="#231815" stroke-width="1.9"/>
<circle cx="640.8" cy="415.4" r="2.6" fill="none" stroke="#231815" stroke-width="0.8"/>
<circle cx="657.5" cy="415.4" r="4.5" fill="none" stroke="#231815" stroke-width="1.9"/>
<circle cx="657.5" cy="415.4" r="2.6" fill="none" stroke="#231815" stroke-width="0.8"/>
<circle cx="534.6" cy="440.2" r="4.5" fill="none" stroke="#231815" stroke-width="1.9"/>
<circle cx="534.6" cy="440.2" r="2.6" fill="none" stroke="#231815" stroke-width="0.8"/>
<circle cx="551.3" cy="440.2" r="4.5" fill="none" stroke="#231815" stroke-width="1.9"/>
<circle cx="551.3" cy="440.2" r="2.6" fill="none" stroke="#231815" stroke-width="0.8"/>
<circle cx="573.5" cy="440.2" r="4.5" fill="none" stroke="#231815" stroke-width="1.9"/>
<circle cx="573.5" cy="440.2" r="2.6" fill="none" stroke="#231815" stroke-width="0.8"/>
<circle cx="618.8" cy="440.2" r="4.5" fill="none" stroke="#231815" stroke-width="1.9"/>
<circle cx="618.8" cy="440.2" r="2.6" fill="none" stroke="#231815" stroke-width="0.8"/>
<circle cx="640.8" cy="440.2" r="4.5" fill="none" stroke="#231815" stroke-width="1.9"/>
<circle cx="640.8" cy="440.2" r="2.6" fill="none" stroke="#231815" stroke-width="0.8"/>
<circle cx="657.5" cy="440.2" r="4.5" fill="none" stroke="#231815" stroke-width="1.9"/>
<circle cx="657.5" cy="440.2" r="2.6" fill="none" stroke="#231815" stroke-width="0.8"/>
<line x1="530" y1="425.5" x2="674.5" y2="425.5" stroke="#231815" stroke-width="0.8" stroke-dasharray="5 3"/>
<line x1="550.5" y1="368.5" x2="550.5" y2="430" stroke="#231815" stroke-width="0.8"/>
<line x1="641.4" y1="368.5" x2="641.4" y2="430" stroke="#231815" stroke-width="0.8"/>
<line x1="575.4" y1="384.5" x2="575.4" y2="430" stroke="#231815" stroke-width="0.8"/>
<line x1="617.2" y1="384.5" x2="617.2" y2="430" stroke="#231815" stroke-width="0.8"/>
<circle cx="550.5" cy="425.5" r="2.6" fill="none" stroke="#231815" stroke-width="0.9"/>
<circle cx="550.5" cy="425.5" r="0.8" fill="#231815"/>
<circle cx="575.4" cy="425.5" r="2.6" fill="none" stroke="#231815" stroke-width="0.9"/>
<circle cx="575.4" cy="425.5" r="0.8" fill="#231815"/>
<circle cx="616.8" cy="425.5" r="2.6" fill="none" stroke="#231815" stroke-width="0.9"/>
<circle cx="616.8" cy="425.5" r="0.8" fill="#231815"/>
<circle cx="641.4" cy="425.5" r="2.6" fill="none" stroke="#231815" stroke-width="0.9"/>
<circle cx="641.4" cy="425.5" r="0.8" fill="#231815"/>
<path d="M557.5 401.2V446.8" fill="none" stroke="#231815" stroke-width="1"/>
<path d="M560.5 401.2V446.8" fill="none" stroke="#231815" stroke-width="0.8"/>
<path d="M568 401.2Q574 404 572.5 420Q570.5 434 572.5 446.8" fill="none" stroke="#231815" stroke-width="1"/>
<line x1="563.1" y1="398.5" x2="563.1" y2="448" stroke="#231815" stroke-width="0.7" stroke-dasharray="4 2"/>
<path d="M558.5 425.5H568V444Q565 448 561 448Q558.5 446 558.5 444Z" fill="none" stroke="#231815" stroke-width="1"/>
<line x1="567.5" y1="410" x2="572.5" y2="404" stroke="#231815" stroke-width="0.7"/>
<line x1="569.5" y1="430" x2="572.5" y2="424" stroke="#231815" stroke-width="0.7"/>
<path d="M583.3 447.1V455Q583.3 457 585.3 457H606.4Q608.4 457 608.4 455V447.1" fill="none" stroke="#231815" stroke-width="1"/>
<line x1="596.1" y1="397.4" x2="596.1" y2="464.9" stroke="#231815" stroke-width="0.8" stroke-dasharray="12 2.5 2 2.5"/>
<circle cx="562.6" cy="421.8" r="28.4" fill="none" stroke="#231815" stroke-width="0.8"/>
<circle cx="728.7" cy="440.2" r="26.1" fill="none" stroke="#231815" stroke-width="0.8"/>
<text x="750.1" y="414.2" font-size="11.5" text-anchor="middle" fill="#231815">B</text>
<line x1="641.4" y1="425.5" x2="694.2" y2="372.7" stroke="#231815" stroke-width="0.8"/>
<path d="M641.4 425.5L646.63 418L648.9 420.27Z" fill="#231815"/>
<line x1="694.2" y1="372.7" x2="812.8" y2="372.7" stroke="#231815" stroke-width="0.8"/>
<line x1="675.9" y1="400.8" x2="818.7" y2="400.8" stroke="#231815" stroke-width="0.8"/>
<line x1="674.5" y1="425.5" x2="818.7" y2="425.5" stroke="#231815" stroke-width="0.8"/>
<line x1="814.8" y1="379.6" x2="814.8" y2="400.8" stroke="#231815" stroke-width="0.8"/>
<path d="M814.8 400.8L813.1 388.3L816.5 388.3Z" fill="#231815"/>
<line x1="814.8" y1="425.5" x2="814.8" y2="464.3" stroke="#231815" stroke-width="0.8"/>
<path d="M814.8 425.5L816.5 438L813.1 438Z" fill="#231815"/>
<text x="-1" y="0" font-size="13" textLength="25.51" lengthAdjust="spacingAndGlyphs" transform="translate(813.4 464.5) rotate(-90)" fill="#231815">15.0</text>
<line x1="492.1" y1="457.5" x2="492.1" y2="489.5" stroke="#231815" stroke-width="0.8"/>
<line x1="583.8" y1="457" x2="583.8" y2="489.5" stroke="#231815" stroke-width="0.8"/>
<line x1="492.1" y1="486" x2="583.8" y2="486" stroke="#231815" stroke-width="0.8"/>
<path d="M492.1 486L504.6 484.3L504.6 487.7Z" fill="#231815"/>
<path d="M583.8 486L571.3 487.7L571.3 484.3Z" fill="#231815"/>
<text x="494.19" y="484" font-size="13" textLength="83.81" lengthAdjust="spacingAndGlyphs" fill="#231815">55.0=1/2A+5.0</text>
<line x1="608.3" y1="457" x2="608.3" y2="489.5" stroke="#231815" stroke-width="0.8"/>
<line x1="700.1" y1="457.5" x2="700.1" y2="489.5" stroke="#231815" stroke-width="0.8"/>
<line x1="608.3" y1="486" x2="700.1" y2="486" stroke="#231815" stroke-width="0.8"/>
<path d="M608.3 486L620.8 484.3L620.8 487.7Z" fill="#231815"/>
<path d="M700.1 486L687.6 487.7L687.6 484.3Z" fill="#231815"/>
<text x="609.38" y="484" font-size="13" textLength="84.72" lengthAdjust="spacingAndGlyphs" fill="#231815">55.0=1/2A+5.0</text>
<line x1="413.9" y1="463.3" x2="413.9" y2="507.5" stroke="#231815" stroke-width="0.8"/>
<line x1="779.3" y1="463.3" x2="779.3" y2="507.5" stroke="#231815" stroke-width="0.8"/>
<line x1="413.9" y1="504.7" x2="779.3" y2="504.7" stroke="#231815" stroke-width="0.8"/>
<path d="M413.9 504.7L426.4 503L426.4 506.4Z" fill="#231815"/>
<path d="M779.3 504.7L766.8 506.4L766.8 503Z" fill="#231815"/>
<text x="584.82" y="502.8" font-size="13" textLength="22.72" lengthAdjust="spacingAndGlyphs" fill="#231815">220</text>
<path d="M1011.2 447.2V401.4H1159.9V447.2" fill="none" stroke="#231815" stroke-width="1.4"/>
<line x1="1011.2" y1="400.9" x2="1159.9" y2="400.9" stroke="#231815" stroke-width="1.6"/>
<line x1="1013.3" y1="402" x2="1013.3" y2="446" stroke="#231815" stroke-width="0.8"/>
<line x1="1011.2" y1="446.5" x2="1025.3" y2="446.5" stroke="#231815" stroke-width="1.4"/>
<line x1="1145.8" y1="446.5" x2="1159.9" y2="446.5" stroke="#231815" stroke-width="1.4"/>
<line x1="1158.3" y1="402" x2="1158.3" y2="446" stroke="#231815" stroke-width="0.8"/>
<circle cx="1018.4" cy="418.7" r="2" fill="none" stroke="#231815" stroke-width="0.9"/>
<circle cx="1060.4" cy="407.2" r="2" fill="none" stroke="#231815" stroke-width="0.9"/>
<circle cx="1110.4" cy="407.2" r="2" fill="none" stroke="#231815" stroke-width="0.9"/>
<circle cx="1152.6" cy="418.7" r="2" fill="none" stroke="#231815" stroke-width="0.9"/>
<rect x="1145.1" y="409.5" width="13.2" height="37.2" fill="none" stroke="#231815" stroke-width="1.1"/>
<rect x="1013.1" y="409.5" width="12.4" height="37.2" fill="none" stroke="#231815" stroke-width="0"/>
<path d="M1025.6 420.8V411.7H1040V420.8" fill="none" stroke="#231815" stroke-width="1.1"/>
<line x1="1025.6" y1="412.2" x2="1040" y2="412.2" stroke="#231815" stroke-width="1.6"/>
<path d="M1131.1 420.8V411.7H1145.5V420.8" fill="none" stroke="#231815" stroke-width="1.1"/>
<line x1="1131.1" y1="412.2" x2="1145.5" y2="412.2" stroke="#231815" stroke-width="1.6"/>
<path d="M1040 413.6H1131.1" fill="none" stroke="#231815" stroke-width="1.1"/>
<line x1="1056.8" y1="413.6" x2="1056.8" y2="420.8" stroke="#231815" stroke-width="0.9"/>
<line x1="1114.8" y1="413.6" x2="1114.8" y2="420.8" stroke="#231815" stroke-width="0.9"/>
<line x1="1029.5" y1="412" x2="1029.5" y2="420.8" stroke="#231815" stroke-width="0.7"/>
<line x1="1040.6" y1="413" x2="1040.6" y2="420.8" stroke="#231815" stroke-width="0.7"/>
<line x1="1130.5" y1="413" x2="1130.5" y2="420.8" stroke="#231815" stroke-width="0.7"/>
<line x1="1141.5" y1="412" x2="1141.5" y2="420.8" stroke="#231815" stroke-width="0.7"/>
<path d="M1025.3 420.8H1146.3V456Q1146.3 460 1142.3 460H1029.3Q1025.3 460 1025.3 456Z" fill="none" stroke="#231815" stroke-width="1.2"/>
<ellipse cx="1085.6" cy="440.5" rx="41.6" ry="10" fill="none" stroke="#231815" stroke-width="1.0"/>
<circle cx="1068.8" cy="440.5" r="4.8" fill="none" stroke="#231815" stroke-width="0.9"/>
<circle cx="1068.8" cy="440.5" r="2.6" fill="none" stroke="#231815" stroke-width="1.4"/>
<circle cx="1102" cy="440.5" r="4.8" fill="none" stroke="#231815" stroke-width="0.9"/>
<circle cx="1102" cy="440.5" r="2.6" fill="none" stroke="#231815" stroke-width="1.4"/>
<rect x="1040.8" y="460" width="20" height="2.2" fill="#231815" fill-opacity="0.7"/>
<rect x="1110.4" y="460" width="20" height="2.2" fill="#231815" fill-opacity="0.7"/>
<path d="M1160.4 402.3H1166.3Q1177.2 402.3 1177.2 414.7V421" fill="none" stroke="#231815" stroke-width="1.1"/>
<path d="M1173.7 429.4V450.2Q1173.7 459 1162.4 459L1146.1 455.1" fill="none" stroke="#231815" stroke-width="1.1"/>
<path d="M1160.4 410.2H1164.5Q1169.3 410.2 1169.3 415.6V417.6" fill="none" stroke="#231815" stroke-width="1"/>
<rect x="1164.9" y="417.6" width="6.9" height="18.8" fill="none" stroke="#231815" stroke-width="1"/>
<path d="M1165.4 436.4V449.2Q1165.4 451.6 1162.4 451.6L1146.1 447.2" fill="none" stroke="#231815" stroke-width="1"/>
<circle cx="1173.3" cy="423.5" r="3.2" fill="none" stroke="#231815" stroke-width="1"/>
<circle cx="1168.8" cy="429.4" r="3.2" fill="none" stroke="#231815" stroke-width="1"/>
<line x1="980" y1="400.5" x2="1009.6" y2="400.5" stroke="#231815" stroke-width="0.8"/>
<line x1="980" y1="462.4" x2="1145" y2="462.4" stroke="#231815" stroke-width="0.8"/>
<line x1="983.2" y1="400.5" x2="983.2" y2="462.4" stroke="#231815" stroke-width="0.8"/>
<path d="M983.2 400.5L984.9 413L981.5 413Z" fill="#231815"/>
<path d="M983.2 462.4L981.5 449.9L984.9 449.9Z" fill="#231815"/>
<text x="-0.48" y="0" font-size="13" textLength="13.9" lengthAdjust="spacingAndGlyphs" transform="translate(982.4 435.2) rotate(-90)" fill="#231815">37</text>
<line x1="1011.2" y1="448.8" x2="1011.2" y2="486.4" stroke="#231815" stroke-width="0.8"/>
<line x1="1160.4" y1="447.5" x2="1160.4" y2="486.4" stroke="#231815" stroke-width="0.8"/>
<line x1="1011.2" y1="483.2" x2="1160.4" y2="483.2" stroke="#231815" stroke-width="0.8"/>
<path d="M1011.2 483.2L1023.7 481.5L1023.7 484.9Z" fill="#231815"/>
<path d="M1160.4 483.2L1147.9 484.9L1147.9 481.5Z" fill="#231815"/>
<text x="1077.76" y="480.8" font-size="13" textLength="15.17" lengthAdjust="spacingAndGlyphs" fill="#231815">90</text>
<line x1="463.2" y1="550" x2="463.2" y2="632.5" stroke="#231815" stroke-width="0.8"/>
<line x1="728.8" y1="550" x2="728.8" y2="632.5" stroke="#231815" stroke-width="0.8"/>
<line x1="463.2" y1="556.2" x2="728.8" y2="556.2" stroke="#231815" stroke-width="0.8"/>
<path d="M463.2 556.2L475.7 554.5L475.7 557.9Z" fill="#231815"/>
<path d="M728.8 556.2L716.3 557.9L716.3 554.5Z" fill="#231815"/>
<text x="580.93" y="554" font-size="13" textLength="31.76" lengthAdjust="spacingAndGlyphs" fill="#231815">160.0</text>
<line x1="546.5" y1="566" x2="546.5" y2="720" stroke="#231815" stroke-width="0.8"/>
<line x1="645.9" y1="566" x2="645.9" y2="720" stroke="#231815" stroke-width="0.8"/>
<line x1="546.5" y1="571.9" x2="645.9" y2="571.9" stroke="#231815" stroke-width="0.8"/>
<path d="M546.5 571.9L559 570.2L559 573.6Z" fill="#231815"/>
<path d="M645.9 571.9L633.4 573.6L633.4 570.2Z" fill="#231815"/>
<text x="583.95" y="570.2" font-size="13" textLength="25.06" lengthAdjust="spacingAndGlyphs" fill="#231815">60.0</text>
<line x1="562.8" y1="583" x2="562.8" y2="748" stroke="#231815" stroke-width="0.8"/>
<line x1="629.5" y1="583" x2="629.5" y2="748" stroke="#231815" stroke-width="0.8"/>
<line x1="562.8" y1="589" x2="629.5" y2="589" stroke="#231815" stroke-width="0.8"/>
<path d="M562.8 589L575.3 587.3L575.3 590.7Z" fill="#231815"/>
<path d="M629.5 589L617 590.7L617 587.3Z" fill="#231815"/>
<text x="584.31" y="587" font-size="13" textLength="24.69" lengthAdjust="spacingAndGlyphs" fill="#231815">40.0</text>
<line x1="596.1" y1="590" x2="596.1" y2="752" stroke="#231815" stroke-width="0.8" stroke-dasharray="12 2.5 2 2.5"/>
<line x1="463.2" y1="641" x2="463.2" y2="712" stroke="#231815" stroke-width="0.8" stroke-dasharray="6 3"/>
<line x1="728.8" y1="641" x2="728.8" y2="712" stroke="#231815" stroke-width="0.8" stroke-dasharray="6 3"/>
<line x1="420.9" y1="625.4" x2="771.5" y2="625.4" stroke="#231815" stroke-width="1.5"/>
<line x1="420.9" y1="645.8" x2="771.5" y2="645.8" stroke="#231815" stroke-width="2"/>
<line x1="413.6" y1="670.3" x2="778" y2="670.3" stroke="#231815" stroke-width="0.8" stroke-dasharray="40 3 3 3"/>
<line x1="420.9" y1="693.7" x2="771.5" y2="693.7" stroke="#231815" stroke-width="0.9"/>
<line x1="420.9" y1="695.4" x2="771.5" y2="695.4" stroke="#231815" stroke-width="0.9"/>
<line x1="420.9" y1="714" x2="771.5" y2="714" stroke="#231815" stroke-width="1.3"/>
<line x1="420.9" y1="715.8" x2="771.5" y2="715.8" stroke="#231815" stroke-width="1"/>
<line x1="436" y1="637" x2="770" y2="637" stroke="#231815" stroke-width="0.8" stroke-dasharray="14 3 3 3"/>
<line x1="436" y1="703.3" x2="800" y2="703.3" stroke="#231815" stroke-width="0.8" stroke-dasharray="14 3 3 3"/>
<circle cx="463.3" cy="637" r="3.8" fill="none" stroke="#231815" stroke-width="0.9"/>
<line x1="458" y1="637" x2="468.6" y2="637" stroke="#231815" stroke-width="0.8"/>
<line x1="463.3" y1="631.7" x2="463.3" y2="642.3" stroke="#231815" stroke-width="0.8"/>
<circle cx="463.3" cy="703.3" r="3.8" fill="none" stroke="#231815" stroke-width="0.9"/>
<line x1="458" y1="703.3" x2="468.6" y2="703.3" stroke="#231815" stroke-width="0.8"/>
<line x1="463.3" y1="698" x2="463.3" y2="708.6" stroke="#231815" stroke-width="0.8"/>
<circle cx="546.3" cy="637" r="3" fill="none" stroke="#231815" stroke-width="0.9"/>
<line x1="541.8" y1="637" x2="550.8" y2="637" stroke="#231815" stroke-width="0.8"/>
<line x1="546.3" y1="632.5" x2="546.3" y2="641.5" stroke="#231815" stroke-width="0.8"/>
<circle cx="546.3" cy="703.3" r="3" fill="none" stroke="#231815" stroke-width="0.9"/>
<line x1="541.8" y1="703.3" x2="550.8" y2="703.3" stroke="#231815" stroke-width="0.8"/>
<line x1="546.3" y1="698.8" x2="546.3" y2="707.8" stroke="#231815" stroke-width="0.8"/>
<circle cx="596.1" cy="637" r="3.5" fill="none" stroke="#231815" stroke-width="0.9"/>
<line x1="591.1" y1="637" x2="601.1" y2="637" stroke="#231815" stroke-width="0.8"/>
<line x1="596.1" y1="632" x2="596.1" y2="642" stroke="#231815" stroke-width="0.8"/>
<circle cx="596.1" cy="703.3" r="3.5" fill="none" stroke="#231815" stroke-width="0.9"/>
<line x1="591.1" y1="703.3" x2="601.1" y2="703.3" stroke="#231815" stroke-width="0.8"/>
<line x1="596.1" y1="698.3" x2="596.1" y2="708.3" stroke="#231815" stroke-width="0.8"/>
<circle cx="645.8" cy="637" r="3" fill="none" stroke="#231815" stroke-width="0.9"/>
<line x1="641.3" y1="637" x2="650.3" y2="637" stroke="#231815" stroke-width="0.8"/>
<line x1="645.8" y1="632.5" x2="645.8" y2="641.5" stroke="#231815" stroke-width="0.8"/>
<circle cx="645.8" cy="703.3" r="3" fill="none" stroke="#231815" stroke-width="0.9"/>
<line x1="641.3" y1="703.3" x2="650.3" y2="703.3" stroke="#231815" stroke-width="0.8"/>
<line x1="645.8" y1="698.8" x2="645.8" y2="707.8" stroke="#231815" stroke-width="0.8"/>
<circle cx="728.8" cy="637" r="3.8" fill="none" stroke="#231815" stroke-width="0.9"/>
<line x1="723.5" y1="637" x2="734.1" y2="637" stroke="#231815" stroke-width="0.8"/>
<line x1="728.8" y1="631.7" x2="728.8" y2="642.3" stroke="#231815" stroke-width="0.8"/>
<circle cx="728.8" cy="703.3" r="3.8" fill="none" stroke="#231815" stroke-width="0.9"/>
<line x1="723.5" y1="703.3" x2="734.1" y2="703.3" stroke="#231815" stroke-width="0.8"/>
<line x1="728.8" y1="698" x2="728.8" y2="708.6" stroke="#231815" stroke-width="0.8"/>
<circle cx="463.3" cy="670.3" r="3.3" fill="none" stroke="#231815" stroke-width="0.9"/>
<line x1="458.5" y1="670.3" x2="468.1" y2="670.3" stroke="#231815" stroke-width="0.8"/>
<line x1="463.3" y1="665.5" x2="463.3" y2="675.1" stroke="#231815" stroke-width="0.8"/>
<circle cx="728.8" cy="670.3" r="3.3" fill="none" stroke="#231815" stroke-width="0.9"/>
<line x1="724" y1="670.3" x2="733.6" y2="670.3" stroke="#231815" stroke-width="0.8"/>
<line x1="728.8" y1="665.5" x2="728.8" y2="675.1" stroke="#231815" stroke-width="0.8"/>
<path d="M420.9 609.7V730.3" fill="none" stroke="#231815" stroke-width="1.2"/>
<path d="M416.5 614Q411.5 670 416.5 726" fill="none" stroke="#231815" stroke-width="1"/>
<rect x="416.3" y="609.7" width="4.6" height="4.6" fill="none" stroke="#231815" stroke-width="0.9" rx="0.8"/>
<rect x="416.3" y="725.7" width="4.6" height="4.6" fill="none" stroke="#231815" stroke-width="0.9" rx="0.8"/>
<path d="M772 609.7V730.3" fill="none" stroke="#231815" stroke-width="1.2"/>
<path d="M777.4 614Q782.4 670 777.4 726" fill="none" stroke="#231815" stroke-width="1"/>
<rect x="772" y="609.7" width="5.2" height="4.6" fill="none" stroke="#231815" stroke-width="0.9" rx="0.8"/>
<rect x="772" y="725.7" width="5.2" height="4.6" fill="none" stroke="#231815" stroke-width="0.9" rx="0.8"/>
<rect x="421.4" y="613.1" width="66.4" height="10.3" fill="none" stroke="#231815" stroke-width="1.2"/>
<line x1="424" y1="614.5" x2="424" y2="622.5" stroke="#231815" stroke-width="0.8"/>
<line x1="421.4" y1="615" x2="487.8" y2="615" stroke="#231815" stroke-width="0.6"/>
<rect x="487.8" y="614.8" width="4.3" height="8.4" fill="none" stroke="#231815" stroke-width="1" rx="1"/>
<rect x="492.1" y="616.6" width="24.9" height="3.6" fill="#231815"/>
<rect x="705.2" y="613.1" width="65.6" height="10.3" fill="none" stroke="#231815" stroke-width="1.2"/>
<line x1="768" y1="614.5" x2="768" y2="622.5" stroke="#231815" stroke-width="0.8"/>
<line x1="705.2" y1="615" x2="770.8" y2="615" stroke="#231815" stroke-width="0.6"/>
<rect x="700.6" y="614.8" width="4.6" height="8.4" fill="none" stroke="#231815" stroke-width="1" rx="1"/>
<rect x="675.2" y="616.6" width="25.4" height="3.6" fill="#231815"/>
<rect x="422.2" y="719.1" width="94.8" height="5.2" fill="#231815"/>
<rect x="675.2" y="719.1" width="95.3" height="5.2" fill="#231815"/>
<path d="M518.1 595.6H672Q674.6 595.6 674.6 598.2V609.7H518.1Z" fill="#fff"/>
<path d="M518.1 609.7V598.2Q518.1 595.6 520.7 595.6H672Q674.6 595.6 674.6 598.2V609.7" fill="none" stroke="#231815" stroke-width="1.6"/>
<rect x="513.4" y="597.6" width="4.4" height="9.8" fill="none" stroke="#231815" stroke-width="1" rx="2"/>
<line x1="520" y1="597.7" x2="673" y2="597.7" stroke="#231815" stroke-width="0.7"/>
<line x1="517.5" y1="609.8" x2="675.2" y2="609.8" stroke="#231815" stroke-width="2.2"/>
<line x1="525" y1="602.5" x2="674" y2="602.5" stroke="#231815" stroke-width="0.8" stroke-dasharray="7 3"/>
<circle cx="562.8" cy="602.5" r="5.6" fill="none" stroke="#231815" stroke-width="1.1"/>
<circle cx="562.8" cy="602.5" r="4" fill="none" stroke="#231815" stroke-width="1"/>
<line x1="559.3" y1="602.5" x2="566.3" y2="602.5" stroke="#231815" stroke-width="0.6"/>
<line x1="562.8" y1="599" x2="562.8" y2="606" stroke="#231815" stroke-width="0.6"/>
<circle cx="629.5" cy="602.5" r="5.6" fill="none" stroke="#231815" stroke-width="1.1"/>
<circle cx="629.5" cy="602.5" r="4" fill="none" stroke="#231815" stroke-width="1"/>
<line x1="626" y1="602.5" x2="633" y2="602.5" stroke="#231815" stroke-width="0.6"/>
<line x1="629.5" y1="599" x2="629.5" y2="606" stroke="#231815" stroke-width="0.6"/>
<rect x="517.5" y="610.7" width="157.7" height="12.5" fill="none" stroke="#231815" stroke-width="1.2"/>
<line x1="525.7" y1="610.7" x2="525.7" y2="623.2" stroke="#231815" stroke-width="0.9"/>
<line x1="560.7" y1="610.7" x2="560.7" y2="623.2" stroke="#231815" stroke-width="0.9"/>
<line x1="567.6" y1="610.7" x2="567.6" y2="623.2" stroke="#231815" stroke-width="0.9"/>
<rect x="568.8" y="610.7" width="2" height="12.5" fill="#231815"/>
<rect x="580.1" y="614.4" width="31.9" height="8.8" fill="none" stroke="#231815" stroke-width="1"/>
<line x1="584.5" y1="614.4" x2="584.5" y2="623" stroke="#231815" stroke-width="0.8"/>
<line x1="607.6" y1="614.4" x2="607.6" y2="623" stroke="#231815" stroke-width="0.8"/>
<rect x="622" y="610.7" width="2.5" height="12.5" fill="#231815"/>
<line x1="631.4" y1="610.7" x2="631.4" y2="623.2" stroke="#231815" stroke-width="0.9"/>
<line x1="666.4" y1="610.7" x2="666.4" y2="623.2" stroke="#231815" stroke-width="0.9"/>
<rect x="517.5" y="716.9" width="157.7" height="13.1" fill="none" stroke="#231815" stroke-width="1.3"/>
<line x1="517.5" y1="716.9" x2="675.2" y2="716.9" stroke="#231815" stroke-width="2"/>
<line x1="525.7" y1="716.9" x2="525.7" y2="730" stroke="#231815" stroke-width="0.9"/>
<rect x="556.3" y="719" width="13.2" height="9" fill="none" stroke="#231815" stroke-width="0.9"/>
<line x1="570.7" y1="716.9" x2="570.7" y2="730" stroke="#231815" stroke-width="0.9"/>
<line x1="622" y1="716.9" x2="622" y2="730" stroke="#231815" stroke-width="1.6"/>
<line x1="623.3" y1="716.9" x2="623.3" y2="730" stroke="#231815" stroke-width="0.7"/>
<line x1="631.4" y1="716.9" x2="631.4" y2="730" stroke="#231815" stroke-width="0.9"/>
<line x1="666.4" y1="716.9" x2="666.4" y2="730" stroke="#231815" stroke-width="0.9"/>
<circle cx="575.1" cy="723.5" r="1" fill="#231815"/>
<rect x="517.5" y="731.3" width="157.7" height="12.5" fill="none" stroke="#231815" stroke-width="1.4"/>
<rect x="513.1" y="732.5" width="4.2" height="10" fill="none" stroke="#231815" stroke-width="1" rx="2"/>
<line x1="525" y1="737.5" x2="674" y2="737.5" stroke="#231815" stroke-width="0.8" stroke-dasharray="7 3"/>
<circle cx="562.8" cy="737.5" r="5.5" fill="none" stroke="#231815" stroke-width="1.1"/>
<circle cx="562.8" cy="737.5" r="4" fill="none" stroke="#231815" stroke-width="1"/>
<line x1="562.8" y1="734" x2="562.8" y2="741" stroke="#231815" stroke-width="0.6"/>
<circle cx="629.5" cy="737.5" r="5.5" fill="none" stroke="#231815" stroke-width="1.1"/>
<circle cx="629.5" cy="737.5" r="4" fill="none" stroke="#231815" stroke-width="1"/>
<line x1="629.5" y1="734" x2="629.5" y2="741" stroke="#231815" stroke-width="0.6"/>
<path d="M518.2 743.8V758.5Q518.2 761.3 521 761.3H570.7V750H551.3" fill="none" stroke="#231815" stroke-width="1.1"/>
<path d="M535 719.4Q526.5 720 526 728V752Q526 755.5 530 755.5H551.3" fill="none" stroke="#231815" stroke-width="1.1"/>
<path d="M534.4 726.9H556.3M534.4 726.9V755" fill="none" stroke="#231815" stroke-width="1"/>
<rect x="536.3" y="744.4" width="13.7" height="11.9" fill="none" stroke="#231815" stroke-width="0.9"/>
<rect x="538.2" y="746.3" width="9.9" height="5.6" fill="none" stroke="#231815" stroke-width="0.8"/>
<circle cx="543" cy="745.5" r="0.7" fill="#231815"/>
<line x1="676" y1="602.2" x2="818.6" y2="602.2" stroke="#231815" stroke-width="0.8"/>
<line x1="675.9" y1="737.3" x2="818.9" y2="737.3" stroke="#231815" stroke-width="0.8"/>
<line x1="770" y1="637" x2="799.8" y2="637" stroke="#231815" stroke-width="0.8"/>
<line x1="778" y1="703.3" x2="800" y2="703.3" stroke="#231815" stroke-width="0.8"/>
<line x1="815.4" y1="602.2" x2="815.4" y2="737.3" stroke="#231815" stroke-width="0.8"/>
<path d="M815.4 602.2L817.1 614.7L813.7 614.7Z" fill="#231815"/>
<path d="M815.4 737.3L813.7 724.8L817.1 724.8Z" fill="#231815"/>
<line x1="797" y1="637" x2="797" y2="703.3" stroke="#231815" stroke-width="0.8"/>
<path d="M797 637L798.7 649.5L795.3 649.5Z" fill="#231815"/>
<path d="M797 703.3L795.3 690.8L798.7 690.8Z" fill="#231815"/>
<text x="-0.29" y="0" font-size="13" textLength="24.48" lengthAdjust="spacingAndGlyphs" transform="translate(795.7 684.7) rotate(-90)" fill="#231815">40.0</text>
<text x="-0.55" y="0" font-size="13" textLength="24.79" lengthAdjust="spacingAndGlyphs" transform="translate(813.4 684.7) rotate(-90)" fill="#231815">81.5</text>
<line x1="463.3" y1="670.3" x2="430.6" y2="793.4" stroke="#231815" stroke-width="0.8"/>
<path d="M462.3 674L460.73 686L457.64 685.17Z" fill="#231815"/>
<line x1="332.5" y1="793.4" x2="430.6" y2="793.4" stroke="#231815" stroke-width="0.8"/>
<ellipse cx="338.8" cy="786.8" rx="4.23" ry="4.4" fill="none" stroke="#231815" stroke-width="1.1"/>
<line x1="336.27" y1="792.3" x2="342.25" y2="779.8" stroke="#231815" stroke-width="1.1"/>
<text x="345.61" y="791.3" font-size="13" textLength="33.42" lengthAdjust="spacingAndGlyphs" fill="#231815">4.0H7</text>
<line x1="382.2" y1="781.4" x2="391.8" y2="781.4" stroke="#231815" stroke-width="1"/>
<line x1="387" y1="781.4" x2="387" y2="791.3" stroke="#231815" stroke-width="1"/>
<path d="M382.97 784.3L387 791.5L391.03 784.3" fill="none" stroke="#231815" stroke-width="1"/>
<text x="394.2" y="791.3" font-size="13" textLength="17.28" lengthAdjust="spacingAndGlyphs" fill="#231815">5.0</text>
<line x1="645.8" y1="706" x2="645.8" y2="793.1" stroke="#231815" stroke-width="0.8"/>
<path d="M645.8 706.5L647.3 715.5L644.3 715.5Z" fill="#231815"/>
<line x1="521.3" y1="793.1" x2="646.5" y2="793.1" stroke="#231815" stroke-width="0.8"/>
<text x="525.89" y="776.1" font-size="13" textLength="7.51" lengthAdjust="spacingAndGlyphs" fill="#231815">4</text>
<line x1="538.4" y1="767.76" x2="546.6" y2="775.3" stroke="#231815" stroke-width="1.15"/>
<line x1="538.4" y1="775.3" x2="546.6" y2="767.76" stroke="#231815" stroke-width="1.15"/>
<ellipse cx="555.4" cy="771.6" rx="4.51" ry="4.4" fill="none" stroke="#231815" stroke-width="1.1"/>
<line x1="552.71" y1="777.1" x2="559.07" y2="764.6" stroke="#231815" stroke-width="1.1"/>
<text x="564.19" y="776.1" font-size="13" textLength="18.6" lengthAdjust="spacingAndGlyphs" fill="#231815">3.3</text>
<line x1="583.6" y1="766.2" x2="593.4" y2="766.2" stroke="#231815" stroke-width="1"/>
<line x1="588.5" y1="766.2" x2="588.5" y2="776.1" stroke="#231815" stroke-width="1"/>
<path d="M584.38 769.1L588.5 776.3L592.62 769.1" fill="none" stroke="#231815" stroke-width="1"/>
<text x="595.82" y="776.1" font-size="13" textLength="24.91" lengthAdjust="spacingAndGlyphs" fill="#231815">11.5</text>
<text x="554.87" y="791.2" font-size="13" textLength="17.5" lengthAdjust="spacingAndGlyphs" fill="#231815">M4</text>
<line x1="573.4" y1="781.3" x2="582.7" y2="781.3" stroke="#231815" stroke-width="1"/>
<line x1="578.05" y1="781.3" x2="578.05" y2="791.2" stroke="#231815" stroke-width="1"/>
<path d="M574.14 784.2L578.05 791.4L581.96 784.2" fill="none" stroke="#231815" stroke-width="1"/>
<text x="583.03" y="791.2" font-size="13" textLength="18.18" lengthAdjust="spacingAndGlyphs" fill="#231815">8.0</text>
<line x1="728.8" y1="670.3" x2="762.3" y2="793.2" stroke="#231815" stroke-width="0.8"/>
<path d="M729.8 674L734.5 685.16L731.41 686Z" fill="#231815"/>
<line x1="762.3" y1="793.2" x2="901" y2="793.2" stroke="#231815" stroke-width="0.8"/>
<ellipse cx="773.8" cy="786.9" rx="4.32" ry="4.4" fill="none" stroke="#231815" stroke-width="1.1"/>
<line x1="771.21" y1="792.4" x2="777.32" y2="779.9" stroke="#231815" stroke-width="1.1"/>
<text x="780.82" y="791.4" font-size="13" textLength="32.7" lengthAdjust="spacingAndGlyphs" fill="#231815">4.0H7</text>
<line x1="819.7" y1="782.96" x2="828" y2="790.6" stroke="#231815" stroke-width="1.15"/>
<line x1="819.7" y1="790.6" x2="828" y2="782.96" stroke="#231815" stroke-width="1.15"/>
<text x="832.71" y="791.4" font-size="13" textLength="17.18" lengthAdjust="spacingAndGlyphs" fill="#231815">5.0</text>
<line x1="853.6" y1="781.5" x2="863" y2="781.5" stroke="#231815" stroke-width="1"/>
<line x1="858.3" y1="781.5" x2="858.3" y2="791.4" stroke="#231815" stroke-width="1"/>
<path d="M854.35 784.4L858.3 791.6L862.25 784.4" fill="none" stroke="#231815" stroke-width="1"/>
<text x="865.09" y="791.4" font-size="13" textLength="17.71" lengthAdjust="spacingAndGlyphs" fill="#231815">5.0</text>
<text x="923.72" y="790.6" font-size="13" textLength="142.07" lengthAdjust="spacingAndGlyphs" fill="#231815">Note: A=Effective stroke</text>
<clipPath id="cpa"><path d="M951.9 565.2H1029.5A57 57 0 1 1 951.9 565.2Z"/></clipPath>
<g clip-path="url(#cpa)">
<circle cx="966.8" cy="594.7" r="8.6" fill="none" stroke="#231815" stroke-width="2"/>
<circle cx="966.8" cy="594.7" r="6.3" fill="none" stroke="#231815" stroke-width="0.8"/>
<polygon points="970.9,594.7 968.85,598.25 964.75,598.25 962.7,594.7 964.75,591.15 968.85,591.15" fill="none" stroke="#231815" stroke-width="0.8"/>
<circle cx="966.8" cy="644.2" r="8.6" fill="none" stroke="#231815" stroke-width="2"/>
<circle cx="966.8" cy="644.2" r="6.3" fill="none" stroke="#231815" stroke-width="0.8"/>
<polygon points="970.9,644.2 968.85,647.75 964.75,647.75 962.7,644.2 964.75,640.65 968.85,640.65" fill="none" stroke="#231815" stroke-width="0.8"/>
<circle cx="1011.4" cy="644.2" r="8.6" fill="none" stroke="#231815" stroke-width="2"/>
<circle cx="1011.4" cy="644.2" r="6.3" fill="none" stroke="#231815" stroke-width="0.8"/>
<polygon points="1015.5,644.2 1013.45,647.75 1009.35,647.75 1007.3,644.2 1009.35,640.65 1013.45,640.65" fill="none" stroke="#231815" stroke-width="0.8"/>
<circle cx="936.3" cy="594.7" r="8.6" fill="none" stroke="#231815" stroke-width="2"/>
<circle cx="936.3" cy="594.7" r="6.3" fill="none" stroke="#231815" stroke-width="0.8"/>
<polygon points="940.4,594.7 938.35,598.25 934.25,598.25 932.2,594.7 934.25,591.15 938.35,591.15" fill="none" stroke="#231815" stroke-width="0.8"/>
<circle cx="965.4" cy="614.5" r="5.4" fill="none" stroke="#231815" stroke-width="1"/>
<line x1="940" y1="654.2" x2="1040" y2="654.2" stroke="#231815" stroke-width="0.9"/>
<line x1="940" y1="657" x2="1040" y2="657" stroke="#231815" stroke-width="0.7"/>
</g>
<path d="M951.9 565.2H1029.5A57 57 0 1 1 951.9 565.2Z" fill="none" stroke="#231815" stroke-width="1"/>
<line x1="950.5" y1="568.5" x2="980.2" y2="568.5" stroke="#231815" stroke-width="0.8"/>
<line x1="1005" y1="568.5" x2="1031.5" y2="568.5" stroke="#231815" stroke-width="0.8"/>
<path d="M979.5 565.2H1010Q1006 590 1009 614Q1012 640 1001.5 658H983Q975 640 978 612Q980 590 979.5 565.2Z" fill="#fff"/>
<path d="M979.5 565.2Q982 585 978.5 612Q976 640 982 658" fill="none" stroke="#231815" stroke-width="1"/>
<path d="M1010 565.2Q1005 590 1009 614Q1012 640 1002 658" fill="none" stroke="#231815" stroke-width="1"/>
<line x1="983.1" y1="565.2" x2="983.1" y2="612" stroke="#231815" stroke-width="0.8"/>
<line x1="997.9" y1="565.2" x2="997.9" y2="656" stroke="#231815" stroke-width="0.8"/>
<line x1="1001.5" y1="565.2" x2="1001.5" y2="660" stroke="#231815" stroke-width="0.8"/>
<line x1="990.5" y1="558.5" x2="990.5" y2="663" stroke="#231815" stroke-width="0.9" stroke-dasharray="30 3 3 3"/>
<path d="M982.7 614.5H1001.5" fill="none" stroke="#231815" stroke-width="1"/>
<path d="M982.7 614.5V650Q985 662 990.5 663Q996 662 997.9 650" fill="none" stroke="#231815" stroke-width="0.9"/>
<line x1="985" y1="616" x2="985" y2="656" stroke="#231815" stroke-width="0.6"/>
<line x1="998.5" y1="580" x2="1009" y2="570" stroke="#231815" stroke-width="0.6"/>
<line x1="998.5" y1="570" x2="1009" y2="580" stroke="#231815" stroke-width="0.6"/>
<line x1="998.5" y1="594" x2="1009" y2="584" stroke="#231815" stroke-width="0.6"/>
<line x1="998.5" y1="584" x2="1009" y2="594" stroke="#231815" stroke-width="0.6"/>
<line x1="998.5" y1="608" x2="1009" y2="598" stroke="#231815" stroke-width="0.6"/>
<line x1="998.5" y1="598" x2="1009" y2="608" stroke="#231815" stroke-width="0.6"/>
<line x1="998.5" y1="622" x2="1009" y2="612" stroke="#231815" stroke-width="0.6"/>
<line x1="998.5" y1="612" x2="1009" y2="622" stroke="#231815" stroke-width="0.6"/>
<line x1="998.5" y1="636" x2="1009" y2="626" stroke="#231815" stroke-width="0.6"/>
<line x1="998.5" y1="626" x2="1009" y2="636" stroke="#231815" stroke-width="0.6"/>
<line x1="998.5" y1="650" x2="1009" y2="640" stroke="#231815" stroke-width="0.6"/>
<line x1="998.5" y1="640" x2="1009" y2="650" stroke="#231815" stroke-width="0.6"/>
<circle cx="1015" cy="614.5" r="5.2" fill="none" stroke="#231815" stroke-width="1.1"/>
<line x1="1012" y1="618" x2="1018" y2="611" stroke="#231815" stroke-width="0.9"/>
<line x1="1020.5" y1="614.5" x2="1065.5" y2="614.5" stroke="#231815" stroke-width="0.8"/>
<line x1="1029.5" y1="565.2" x2="1065.5" y2="565.2" stroke="#231815" stroke-width="0.8"/>
<line x1="1062" y1="543.5" x2="1062" y2="565.2" stroke="#231815" stroke-width="0.8"/>
<path d="M1062 565.2L1060.3 552.7L1063.7 552.7Z" fill="#231815"/>
<line x1="1062" y1="614.5" x2="1062" y2="634.7" stroke="#231815" stroke-width="0.8"/>
<path d="M1062 614.5L1063.7 627L1060.3 627Z" fill="#231815"/>
<text x="-0.97" y="0" font-size="13" textLength="24.77" lengthAdjust="spacingAndGlyphs" transform="translate(1059.7 603.1) rotate(-90)" fill="#231815">15.0</text>
<line x1="982.9" y1="660" x2="982.9" y2="679.8" stroke="#231815" stroke-width="0.7"/>
<line x1="997.5" y1="660" x2="997.5" y2="679.8" stroke="#231815" stroke-width="0.7"/>
<line x1="979.5" y1="658" x2="979.5" y2="695.9" stroke="#231815" stroke-width="0.9"/>
<line x1="1001.3" y1="658" x2="1001.3" y2="695.9" stroke="#231815" stroke-width="0.9"/>
<line x1="961.9" y1="676.6" x2="1056.8" y2="676.6" stroke="#231815" stroke-width="0.8"/>
<path d="M982.9 676.6L970.4 678.3L970.4 674.9Z" fill="#231815"/>
<path d="M997.5 676.6L1010 674.9L1010 678.3Z" fill="#231815"/>
<line x1="958" y1="692.1" x2="1056.8" y2="692.1" stroke="#231815" stroke-width="0.8"/>
<path d="M979.5 692.1L967 693.8L967 690.4Z" fill="#231815"/>
<path d="M1001.3 692.1L1013.8 690.4L1013.8 693.8Z" fill="#231815"/>
<ellipse cx="1029.6" cy="670.1" rx="4.23" ry="4.4" fill="none" stroke="#231815" stroke-width="1.1"/>
<line x1="1027.07" y1="675.6" x2="1033.05" y2="663.1" stroke="#231815" stroke-width="1.1"/>
<text x="1036.21" y="674.6" font-size="13" textLength="17.62" lengthAdjust="spacingAndGlyphs" fill="#231815">4.5</text>
<ellipse cx="1029.6" cy="685.7" rx="4.23" ry="4.4" fill="none" stroke="#231815" stroke-width="1.1"/>
<line x1="1027.07" y1="691.2" x2="1033.05" y2="678.7" stroke="#231815" stroke-width="1.1"/>
<text x="1035.84" y="690.2" font-size="13" textLength="18" lengthAdjust="spacingAndGlyphs" fill="#231815">6.5</text>
<text x="964.64" y="709.8" font-size="13" textLength="52.19" lengthAdjust="spacingAndGlyphs" fill="#231815">DETAIL A</text>
<text x="923.82" y="724.8" font-size="13" textLength="146.51" lengthAdjust="spacingAndGlyphs" fill="#231815">4 MOUNTING HOLES TYP</text>
<clipPath id="cpb"><path d="M1111.6 563.4H1186.8A52.7 52.7 0 0 1 1180.5 646.2H1118.4A52.7 52.7 0 0 1 1111.6 563.4Z"/></clipPath>
<g clip-path="url(#cpb)">
<line x1="1090" y1="591.9" x2="1130" y2="591.9" stroke="#231815" stroke-width="1.6"/>
<line x1="1170" y1="591.9" x2="1210" y2="591.9" stroke="#231815" stroke-width="1.6"/>
<line x1="1090" y1="616" x2="1132" y2="616" stroke="#231815" stroke-width="0.9"/>
<line x1="1090" y1="617.6" x2="1132" y2="617.6" stroke="#231815" stroke-width="0.6"/>
<line x1="1090" y1="635.6" x2="1134" y2="635.6" stroke="#231815" stroke-width="0.9"/>
<line x1="1090" y1="639" x2="1134" y2="639" stroke="#231815" stroke-width="0.7"/>
<line x1="1090" y1="642" x2="1134" y2="642" stroke="#231815" stroke-width="0.7"/>
<line x1="1166" y1="635.6" x2="1210" y2="635.6" stroke="#231815" stroke-width="0.9"/>
<line x1="1166" y1="639" x2="1210" y2="639" stroke="#231815" stroke-width="0.7"/>
<line x1="1166" y1="642" x2="1210" y2="642" stroke="#231815" stroke-width="0.7"/>
<circle cx="1115.9" cy="577.6" r="8.6" fill="none" stroke="#231815" stroke-width="2"/>
<circle cx="1115.9" cy="577.6" r="6.3" fill="none" stroke="#231815" stroke-width="0.8"/>
<polygon points="1120,577.6 1117.95,581.15 1113.85,581.15 1111.8,577.6 1113.85,574.05 1117.95,574.05" fill="none" stroke="#231815" stroke-width="0.8"/>
<circle cx="1181.8" cy="577.6" r="8.6" fill="none" stroke="#231815" stroke-width="2"/>
<circle cx="1181.8" cy="577.6" r="6.3" fill="none" stroke="#231815" stroke-width="0.8"/>
<polygon points="1185.9,577.6 1183.85,581.15 1179.75,581.15 1177.7,577.6 1179.75,574.05 1183.85,574.05" fill="none" stroke="#231815" stroke-width="0.8"/>
<circle cx="1179.2" cy="627.4" r="8.6" fill="none" stroke="#231815" stroke-width="2"/>
<circle cx="1179.2" cy="627.4" r="6.3" fill="none" stroke="#231815" stroke-width="0.8"/>
<polygon points="1183.3,627.4 1181.25,630.95 1177.15,630.95 1175.1,627.4 1177.15,623.85 1181.25,623.85" fill="none" stroke="#231815" stroke-width="0.8"/>
<path d="M1101 617V643" fill="none" stroke="#231815" stroke-width="0.8"/>
</g>
<path d="M1111.6 563.4H1186.8A52.7 52.7 0 0 1 1180.5 646.2H1118.4A52.7 52.7 0 0 1 1111.6 563.4Z" fill="none" stroke="#231815" stroke-width="1"/>
<line x1="1113.9" y1="563.4" x2="1183.8" y2="563.4" stroke="#231815" stroke-width="1.8"/>
<path d="M1131 563.4H1171.5V646.2H1135Q1128 620 1131 563.4Z" fill="#fff"/>
<path d="M1132 566Q1126 605 1131 625Q1134 640 1139 646" fill="none" stroke="#231815" stroke-width="1"/>
<path d="M1170 566Q1173 605 1168 625Q1164 640 1160 646" fill="none" stroke="#231815" stroke-width="1"/>
<line x1="1135.9" y1="563.4" x2="1135.9" y2="612" stroke="#231815" stroke-width="0.9"/>
<line x1="1162.4" y1="563.4" x2="1162.4" y2="612" stroke="#231815" stroke-width="0.9"/>
<line x1="1135.9" y1="579.6" x2="1162.4" y2="579.6" stroke="#231815" stroke-width="0.9"/>
<line x1="1135.9" y1="586" x2="1162.4" y2="586" stroke="#231815" stroke-width="0.9"/>
<line x1="1135.9" y1="611.9" x2="1162.4" y2="611.9" stroke="#231815" stroke-width="1"/>
<line x1="1141.7" y1="612" x2="1141.7" y2="679" stroke="#231815" stroke-width="0.8"/>
<line x1="1156.6" y1="612" x2="1156.6" y2="679" stroke="#231815" stroke-width="0.8"/>
<line x1="1135.3" y1="612" x2="1135.3" y2="695.9" stroke="#231815" stroke-width="0.8"/>
<line x1="1162" y1="612" x2="1162" y2="695.9" stroke="#231815" stroke-width="0.8"/>
<line x1="1149.5" y1="557.6" x2="1149.5" y2="652" stroke="#231815" stroke-width="0.8" stroke-dasharray="25 3 3 3"/>
<line x1="1131" y1="575" x2="1135.9" y2="566" stroke="#231815" stroke-width="0.6"/>
<line x1="1131" y1="566" x2="1135.9" y2="575" stroke="#231815" stroke-width="0.6"/>
<line x1="1162.4" y1="575" x2="1170" y2="566" stroke="#231815" stroke-width="0.6"/>
<line x1="1162.4" y1="566" x2="1170" y2="575" stroke="#231815" stroke-width="0.6"/>
<line x1="1131" y1="588.5" x2="1135.9" y2="579.5" stroke="#231815" stroke-width="0.6"/>
<line x1="1131" y1="579.5" x2="1135.9" y2="588.5" stroke="#231815" stroke-width="0.6"/>
<line x1="1162.4" y1="588.5" x2="1170" y2="579.5" stroke="#231815" stroke-width="0.6"/>
<line x1="1162.4" y1="579.5" x2="1170" y2="588.5" stroke="#231815" stroke-width="0.6"/>
<line x1="1131" y1="602" x2="1135.9" y2="593" stroke="#231815" stroke-width="0.6"/>
<line x1="1131" y1="593" x2="1135.9" y2="602" stroke="#231815" stroke-width="0.6"/>
<line x1="1162.4" y1="602" x2="1170" y2="593" stroke="#231815" stroke-width="0.6"/>
<line x1="1162.4" y1="593" x2="1170" y2="602" stroke="#231815" stroke-width="0.6"/>
<line x1="1131" y1="615.5" x2="1135.9" y2="606.5" stroke="#231815" stroke-width="0.6"/>
<line x1="1131" y1="606.5" x2="1135.9" y2="615.5" stroke="#231815" stroke-width="0.6"/>
<line x1="1162.4" y1="615.5" x2="1170" y2="606.5" stroke="#231815" stroke-width="0.6"/>
<line x1="1162.4" y1="606.5" x2="1170" y2="615.5" stroke="#231815" stroke-width="0.6"/>
<line x1="1131" y1="629" x2="1135.9" y2="620" stroke="#231815" stroke-width="0.6"/>
<line x1="1131" y1="620" x2="1135.9" y2="629" stroke="#231815" stroke-width="0.6"/>
<line x1="1162.4" y1="629" x2="1170" y2="620" stroke="#231815" stroke-width="0.6"/>
<line x1="1162.4" y1="620" x2="1170" y2="629" stroke="#231815" stroke-width="0.6"/>
<line x1="1131" y1="642.5" x2="1135.9" y2="633.5" stroke="#231815" stroke-width="0.6"/>
<line x1="1131" y1="633.5" x2="1135.9" y2="642.5" stroke="#231815" stroke-width="0.6"/>
<line x1="1162.4" y1="642.5" x2="1170" y2="633.5" stroke="#231815" stroke-width="0.6"/>
<line x1="1162.4" y1="633.5" x2="1170" y2="642.5" stroke="#231815" stroke-width="0.6"/>
<path d="M1132.7 621.5A5 5 0 0 0 1132.7 632" fill="none" stroke="#231815" stroke-width="1"/>
<line x1="1164" y1="611.9" x2="1227" y2="611.9" stroke="#231815" stroke-width="0.8"/>
<line x1="1181" y1="645.5" x2="1227" y2="645.5" stroke="#231815" stroke-width="0.8"/>
<line x1="1224.2" y1="591.4" x2="1224.2" y2="612" stroke="#231815" stroke-width="0.8"/>
<path d="M1224.2 611.9L1222.5 599.4L1225.9 599.4Z" fill="#231815"/>
<line x1="1224.2" y1="645.5" x2="1224.2" y2="666.3" stroke="#231815" stroke-width="0.8"/>
<path d="M1224.2 645.5L1225.9 658L1222.5 658Z" fill="#231815"/>
<text x="-0.97" y="0" font-size="13" textLength="24.87" lengthAdjust="spacingAndGlyphs" transform="translate(1223.5 641.7) rotate(-90)" fill="#231815">10.0</text>
<line x1="1120.6" y1="675.2" x2="1208.3" y2="675.2" stroke="#231815" stroke-width="0.8"/>
<path d="M1141.7 675.2L1129.2 676.9L1129.2 673.5Z" fill="#231815"/>
<path d="M1156.6 675.2L1169.1 673.5L1169.1 676.9Z" fill="#231815"/>
<line x1="1114.8" y1="690.4" x2="1208.3" y2="690.4" stroke="#231815" stroke-width="0.8"/>
<path d="M1135.3 690.4L1122.8 692.1L1122.8 688.7Z" fill="#231815"/>
<path d="M1162 690.4L1174.5 688.7L1174.5 692.1Z" fill="#231815"/>
<ellipse cx="1181.5" cy="669.3" rx="4.42" ry="4.4" fill="none" stroke="#231815" stroke-width="1.1"/>
<line x1="1178.86" y1="674.8" x2="1185.1" y2="662.3" stroke="#231815" stroke-width="1.1"/>
<text x="1188.71" y="673.8" font-size="13" textLength="17.83" lengthAdjust="spacingAndGlyphs" fill="#231815">4.5</text>
<ellipse cx="1181.5" cy="684" rx="4.42" ry="4.4" fill="none" stroke="#231815" stroke-width="1.1"/>
<line x1="1178.86" y1="689.5" x2="1185.1" y2="677" stroke="#231815" stroke-width="1.1"/>
<text x="1188.44" y="688.5" font-size="13" textLength="18.07" lengthAdjust="spacingAndGlyphs" fill="#231815">8.0</text>
<text x="1125.7" y="708.7" font-size="13" textLength="53.93" lengthAdjust="spacingAndGlyphs" fill="#231815">DETAIL B</text>
<text x="1085.32" y="723.7" font-size="13" textLength="146.11" lengthAdjust="spacingAndGlyphs" fill="#231815">4 MOUNTING HOLES TYP</text>
</svg>
</body></html>
